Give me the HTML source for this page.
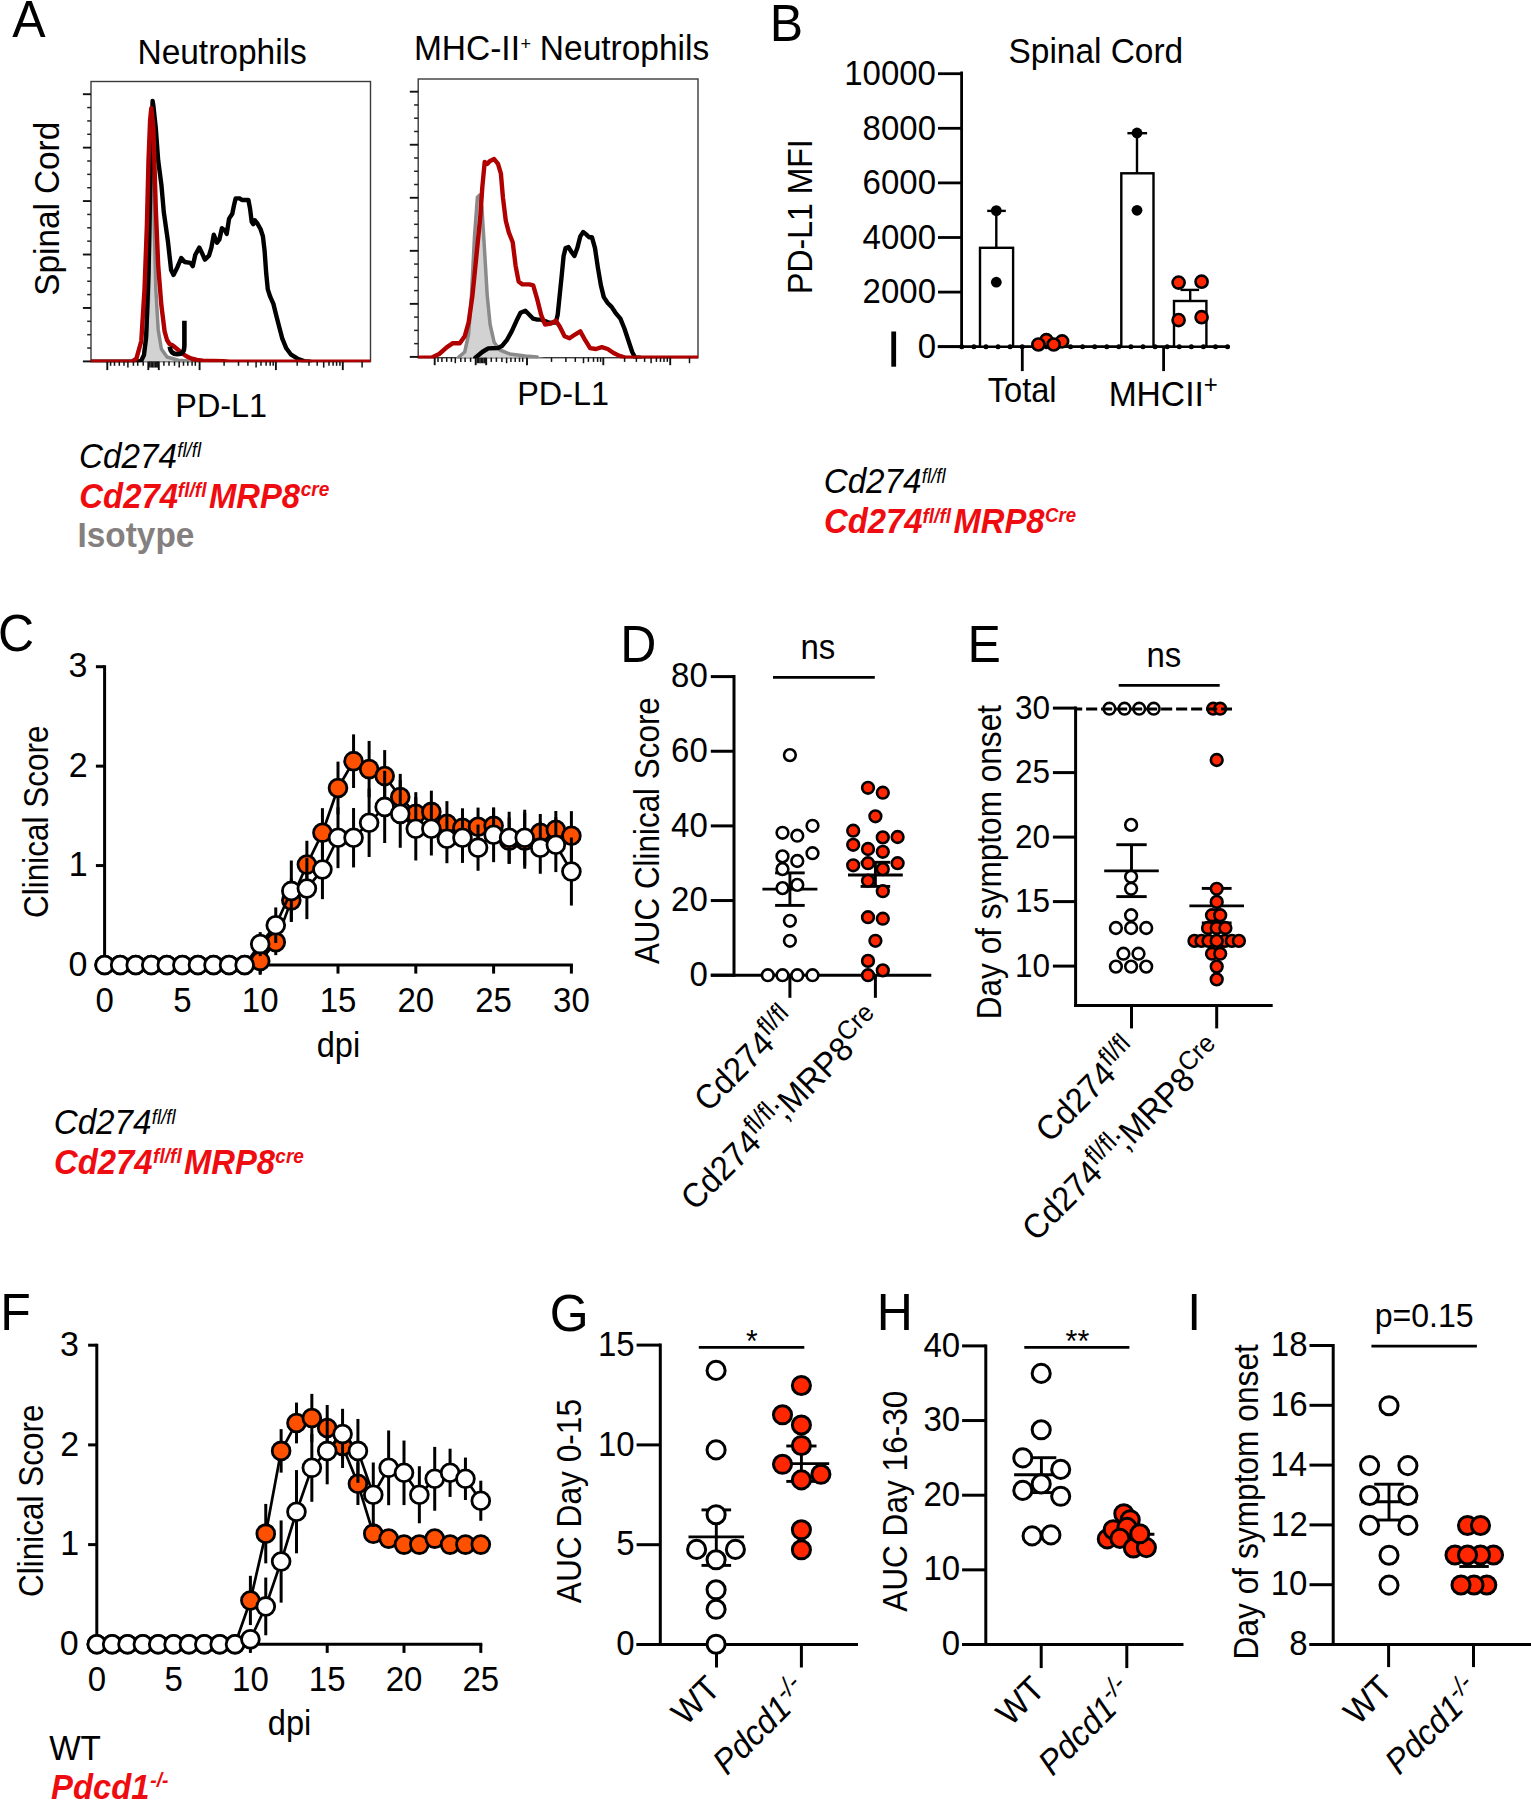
<!DOCTYPE html>
<html><head><meta charset="utf-8"><title>Figure</title>
<style>
html,body{margin:0;padding:0;background:#fff;}
svg{display:block;}
text{font-family:'Liberation Sans', Arial, Helvetica, sans-serif;}
</style></head><body>
<svg xmlns="http://www.w3.org/2000/svg" width="1531" height="1800" viewBox="0 0 1531 1800" font-family="Liberation Sans, Arial, Helvetica, sans-serif">
<rect width="1531" height="1800" fill="#fff"/>
<text transform="translate(12.3 36.5) scale(1 1.05)" font-size="50" fill="#000">A</text>
<text transform="translate(137.45 63.8) scale(1 1.05)" font-size="33.5" fill="#000">Neutrophils</text>
<text transform="translate(413.95 60.1) scale(1 1.05)" font-size="33.5" fill="#000">MHC-II</text>
<text transform="translate(520.62 49.6) scale(1 1.05)" font-size="18" fill="#000">+</text>
<text transform="translate(539.85 60.1) scale(1 1.05)" font-size="33.5" fill="#000">Neutrophils</text>
<text transform="translate(59.3 295.71) rotate(-90) scale(1 1.05)" font-size="33.3" fill="#000">Spinal Cord</text>
<text transform="translate(175.34 417.4) scale(1 1.05)" font-size="32.4" fill="#000">PD-L1</text>
<text transform="translate(517.24 405.3) scale(1 1.05)" font-size="32.4" fill="#000">PD-L1</text>
<clipPath id="ch1"><rect x="91" y="81.5" width="279.5" height="280.8"/></clipPath>
<rect x="91" y="81.5" width="279.5" height="280.1" fill="none" stroke="#3a3a3a" stroke-width="1.4"/>
<g clip-path="url(#ch1)">
<polygon points="141,361.6 144,352 146.5,335 148.5,300 150,230 151.2,150 152,118 153.2,150 154.2,225 155.8,289 158.2,329.7 161.4,349 167,357 178.3,360.3 188,361.1 200,361.6" fill="#d2d2d2" stroke="none"/>
<polyline points="144,352 146.5,335 148.5,300 150,230 151.2,150 152,118 153.2,150 154.2,225 155.8,289 158.2,329.7 161.4,349 167,357 178.3,360.3 188,361.1" fill="none" stroke="#8a8a8a" stroke-width="3.5" stroke-linejoin="round" stroke-linecap="round"/>
<polyline points="91,361.6 138,361.6 141.3,360.5 144,355 146.1,337.8 148.5,273.3 150.1,192.8 151.8,128.3 152.6,100.9 153.3,105 155.8,128.3 158.2,160.6 161.4,184.7 163.8,212.1 167.9,241.1 171.1,270.1 173.5,274.9 177.5,266.9 181.2,258 184.8,262 190.4,262.9 192.8,266.1 195.3,254.8 199.3,247.6 201.7,252.4 204.9,259.6 209,255.6 211.4,247.6 213.8,234.7 217,242.7 219.4,239.5 221.9,228.2 225.1,230.6 226.7,233.9 229.1,218.6 232.3,213.7 233.9,205.7 235.6,198.4 239.6,198.4 242,200 248.4,200 250.1,208.9 251.7,221.8 253.3,224.2 254.9,220.2 257.3,223.4 260.5,229 262.9,236.3 264.6,250.8 266.2,273.3 267.8,289.4 270.2,296.7 273.4,303.9 275.8,313.6 279.1,326.5 282.3,338.6 286.3,348.3 291.1,354.7 297.6,358.7 304,361.1 310,361.6" fill="none" stroke="#000" stroke-width="4.4" stroke-linejoin="round" stroke-linecap="round"/>
<polyline points="91,361.6 132,361.6 136.4,358.7 141.3,341 144.5,289.4 146.9,225 148.5,160.6 150.1,120.3 151.3,108.2 153.4,128.3 155.8,208.9 158.2,265.3 161.4,305.6 164.6,331.3 167,340 169.5,344 172.5,345.3 176.5,348.5 181,352.5 186,356 191,358.5 197,360 203,360.6 223.5,361.1 230,361.6 370.5,361.6" fill="none" stroke="#b00000" stroke-width="4.4" stroke-linejoin="round" stroke-linecap="round"/>
</g>
<path d="M184.4 320.8 L184.4 346 C184.4 352.3 181.2 354.3 177.2 354.3 C173.2 354.3 170.4 352.2 169.7 346.6" fill="none" stroke="#000" stroke-width="4.6"/>
<line x1="82.9" y1="94.2" x2="91" y2="94.2" stroke="#111" stroke-width="1.9"/>
<line x1="87.2" y1="107.56" x2="91" y2="107.56" stroke="#222" stroke-width="1.5"/>
<line x1="87.2" y1="120.92" x2="91" y2="120.92" stroke="#222" stroke-width="1.5"/>
<line x1="87.2" y1="134.28" x2="91" y2="134.28" stroke="#222" stroke-width="1.5"/>
<line x1="82.9" y1="147.64" x2="91" y2="147.64" stroke="#111" stroke-width="1.9"/>
<line x1="87.2" y1="161" x2="91" y2="161" stroke="#222" stroke-width="1.5"/>
<line x1="87.2" y1="174.36" x2="91" y2="174.36" stroke="#222" stroke-width="1.5"/>
<line x1="87.2" y1="187.72" x2="91" y2="187.72" stroke="#222" stroke-width="1.5"/>
<line x1="82.9" y1="201.08" x2="91" y2="201.08" stroke="#111" stroke-width="1.9"/>
<line x1="87.2" y1="214.44" x2="91" y2="214.44" stroke="#222" stroke-width="1.5"/>
<line x1="87.2" y1="227.8" x2="91" y2="227.8" stroke="#222" stroke-width="1.5"/>
<line x1="87.2" y1="241.16" x2="91" y2="241.16" stroke="#222" stroke-width="1.5"/>
<line x1="82.9" y1="254.52" x2="91" y2="254.52" stroke="#111" stroke-width="1.9"/>
<line x1="87.2" y1="267.88" x2="91" y2="267.88" stroke="#222" stroke-width="1.5"/>
<line x1="87.2" y1="281.24" x2="91" y2="281.24" stroke="#222" stroke-width="1.5"/>
<line x1="87.2" y1="294.6" x2="91" y2="294.6" stroke="#222" stroke-width="1.5"/>
<line x1="82.9" y1="307.96" x2="91" y2="307.96" stroke="#111" stroke-width="1.9"/>
<line x1="87.2" y1="321.32" x2="91" y2="321.32" stroke="#222" stroke-width="1.5"/>
<line x1="87.2" y1="334.68" x2="91" y2="334.68" stroke="#222" stroke-width="1.5"/>
<line x1="87.2" y1="348.04" x2="91" y2="348.04" stroke="#222" stroke-width="1.5"/>
<line x1="82.9" y1="361.4" x2="91" y2="361.4" stroke="#111" stroke-width="1.9"/>
<line x1="107.3" y1="361.6" x2="107.3" y2="370.1" stroke="#111" stroke-width="1.9"/>
<line x1="148.3" y1="361.6" x2="148.3" y2="370.1" stroke="#111" stroke-width="1.9"/>
<line x1="158.8" y1="361.6" x2="158.8" y2="370.1" stroke="#111" stroke-width="1.9"/>
<line x1="199.6" y1="361.6" x2="199.6" y2="370.1" stroke="#111" stroke-width="1.9"/>
<line x1="275.9" y1="361.6" x2="275.9" y2="370.1" stroke="#111" stroke-width="1.9"/>
<line x1="342.8" y1="361.6" x2="342.8" y2="370.1" stroke="#111" stroke-width="1.9"/>
<line x1="127.9" y1="361.6" x2="127.9" y2="367.6" stroke="#111" stroke-width="1.5"/>
<line x1="179.2" y1="361.6" x2="179.2" y2="367.6" stroke="#111" stroke-width="1.5"/>
<line x1="256.1" y1="361.6" x2="256.1" y2="367.6" stroke="#111" stroke-width="1.5"/>
<line x1="323.7" y1="361.6" x2="323.7" y2="367.6" stroke="#111" stroke-width="1.5"/>
<line x1="362.1" y1="361.6" x2="362.1" y2="367.6" stroke="#111" stroke-width="1.5"/>
<line x1="149.8" y1="361.6" x2="149.8" y2="367.6" stroke="#111" stroke-width="1.5"/>
<line x1="151.2" y1="361.6" x2="151.2" y2="367.6" stroke="#111" stroke-width="1.5"/>
<line x1="152.6" y1="361.6" x2="152.6" y2="367.6" stroke="#111" stroke-width="1.5"/>
<line x1="154" y1="361.6" x2="154" y2="367.6" stroke="#111" stroke-width="1.5"/>
<line x1="155.4" y1="361.6" x2="155.4" y2="367.6" stroke="#111" stroke-width="1.5"/>
<line x1="156.8" y1="361.6" x2="156.8" y2="367.6" stroke="#111" stroke-width="1.5"/>
<line x1="157.8" y1="361.6" x2="157.8" y2="367.6" stroke="#111" stroke-width="1.5"/>
<line x1="110.6" y1="361.6" x2="110.6" y2="365.8" stroke="#111" stroke-width="1.5"/>
<line x1="114.5" y1="361.6" x2="114.5" y2="365.8" stroke="#111" stroke-width="1.5"/>
<line x1="119.3" y1="361.6" x2="119.3" y2="365.8" stroke="#111" stroke-width="1.5"/>
<line x1="124" y1="361.6" x2="124" y2="365.8" stroke="#111" stroke-width="1.5"/>
<line x1="133.4" y1="361.6" x2="133.4" y2="365.8" stroke="#111" stroke-width="1.5"/>
<line x1="137.7" y1="361.6" x2="137.7" y2="365.8" stroke="#111" stroke-width="1.5"/>
<line x1="143.2" y1="361.6" x2="143.2" y2="365.8" stroke="#111" stroke-width="1.5"/>
<line x1="163.9" y1="361.6" x2="163.9" y2="365.8" stroke="#111" stroke-width="1.5"/>
<line x1="169" y1="361.6" x2="169" y2="365.8" stroke="#111" stroke-width="1.5"/>
<line x1="174.5" y1="361.6" x2="174.5" y2="365.8" stroke="#111" stroke-width="1.5"/>
<line x1="183.5" y1="361.6" x2="183.5" y2="365.8" stroke="#111" stroke-width="1.5"/>
<line x1="187.8" y1="361.6" x2="187.8" y2="365.8" stroke="#111" stroke-width="1.5"/>
<line x1="192.1" y1="361.6" x2="192.1" y2="365.8" stroke="#111" stroke-width="1.5"/>
<line x1="195.3" y1="361.6" x2="195.3" y2="365.8" stroke="#111" stroke-width="1.5"/>
<line x1="224.1" y1="361.6" x2="224.1" y2="365.8" stroke="#111" stroke-width="1.5"/>
<line x1="238.5" y1="361.6" x2="238.5" y2="365.8" stroke="#111" stroke-width="1.5"/>
<line x1="247.9" y1="361.6" x2="247.9" y2="365.8" stroke="#111" stroke-width="1.5"/>
<line x1="261" y1="361.6" x2="261" y2="365.8" stroke="#111" stroke-width="1.5"/>
<line x1="266.1" y1="361.6" x2="266.1" y2="365.8" stroke="#111" stroke-width="1.5"/>
<line x1="270.2" y1="361.6" x2="270.2" y2="365.8" stroke="#111" stroke-width="1.5"/>
<line x1="273.2" y1="361.6" x2="273.2" y2="365.8" stroke="#111" stroke-width="1.5"/>
<line x1="297.2" y1="361.6" x2="297.2" y2="365.8" stroke="#111" stroke-width="1.5"/>
<line x1="309" y1="361.6" x2="309" y2="365.8" stroke="#111" stroke-width="1.5"/>
<line x1="317.2" y1="361.6" x2="317.2" y2="365.8" stroke="#111" stroke-width="1.5"/>
<line x1="329" y1="361.6" x2="329" y2="365.8" stroke="#111" stroke-width="1.5"/>
<line x1="333.1" y1="361.6" x2="333.1" y2="365.8" stroke="#111" stroke-width="1.5"/>
<line x1="336.6" y1="361.6" x2="336.6" y2="365.8" stroke="#111" stroke-width="1.5"/>
<line x1="339.9" y1="361.6" x2="339.9" y2="365.8" stroke="#111" stroke-width="1.5"/>
<clipPath id="ch2"><rect x="418.2" y="79" width="279.8" height="279.4"/></clipPath>
<rect x="418.2" y="79" width="279.8" height="278.7" fill="none" stroke="#3a3a3a" stroke-width="1.4"/>
<g clip-path="url(#ch2)">
<polygon points="455,357.7 458.8,357 464.7,352 468.6,334.3 471.5,295.1 474.5,236.4 477.4,197.2 479.4,195.2 481.9,207 484.3,246.2 487.2,295.1 490.1,324.5 494.1,342.2 499.9,350 509.7,353.9 525.4,355.9 537.2,356.9 545,357.7" fill="#d2d2d2" stroke="none"/>
<polyline points="458.8,357 464.7,352 468.6,334.3 471.5,295.1 474.5,236.4 477.4,197.2 479.4,195.2 481.9,207 484.3,246.2 487.2,295.1 490.1,324.5 494.1,342.2 499.9,350 509.7,353.9 525.4,355.9 537.2,356.9" fill="none" stroke="#8a8a8a" stroke-width="3.5" stroke-linejoin="round" stroke-linecap="round"/>
<polyline points="475.4,357.7 482.3,352 488.2,348.4 498,348 501.9,346.1 506.8,340.2 511.7,331.4 516.6,320.6 520.5,312.8 525.4,310.8 529.3,314.7 533.2,318.7 537.2,319.6 541.1,319.6 548.9,322.6 555.8,322.6 557.7,314.7 559.7,295.1 561.7,275.6 563.6,256 565.6,248.1 568.5,247.1 571.5,252 574.4,256 577.3,248.1 580.3,236.4 583.2,232 586.2,234.4 589.1,237.3 592,237.3 595,248.1 597.9,267.7 600.9,285.4 603.8,297.1 607.7,303 611.6,306.9 615.5,312.8 620.4,318.7 624.4,328.5 628.3,340.2 632.2,352 635.2,357.7 640,357.7" fill="none" stroke="#000" stroke-width="4.4" stroke-linejoin="round" stroke-linecap="round"/>
<polyline points="418.2,357.7 431.4,357.7 439.2,354 447,347.1 452.9,343.2 459.8,343.2 464.7,336.3 468.6,322.6 472.5,295.1 476.4,256 480.3,216.8 482.3,187.4 484.7,161.9 487.2,163.9 490.1,160.9 494.1,159 498,163.9 500.9,173.7 502.9,197.2 505.8,220.7 508.8,232.4 512.7,242.2 515.6,265.8 518.6,281.4 522.5,284.4 529.3,284.4 533.2,285.4 537.2,299.1 541.1,314.7 545,324.5 550.9,323.6 555.8,320.6 559.7,326.5 564.6,336.3 569.5,338.3 575.4,334.3 580.3,331.4 585.2,340.2 590.1,348.1 596,349 601.8,347.1 607.7,349 613.6,353 619.5,355.9 625.3,357.7 698,357.7" fill="none" stroke="#b00000" stroke-width="4.4" stroke-linejoin="round" stroke-linecap="round"/>
</g>
<line x1="409.8" y1="91.7" x2="418.2" y2="91.7" stroke="#111" stroke-width="1.9"/>
<line x1="414.1" y1="104.96" x2="418.2" y2="104.96" stroke="#222" stroke-width="1.5"/>
<line x1="414.1" y1="118.22" x2="418.2" y2="118.22" stroke="#222" stroke-width="1.5"/>
<line x1="414.1" y1="131.48" x2="418.2" y2="131.48" stroke="#222" stroke-width="1.5"/>
<line x1="409.8" y1="144.74" x2="418.2" y2="144.74" stroke="#111" stroke-width="1.9"/>
<line x1="414.1" y1="158" x2="418.2" y2="158" stroke="#222" stroke-width="1.5"/>
<line x1="414.1" y1="171.26" x2="418.2" y2="171.26" stroke="#222" stroke-width="1.5"/>
<line x1="414.1" y1="184.52" x2="418.2" y2="184.52" stroke="#222" stroke-width="1.5"/>
<line x1="409.8" y1="197.78" x2="418.2" y2="197.78" stroke="#111" stroke-width="1.9"/>
<line x1="414.1" y1="211.04" x2="418.2" y2="211.04" stroke="#222" stroke-width="1.5"/>
<line x1="414.1" y1="224.3" x2="418.2" y2="224.3" stroke="#222" stroke-width="1.5"/>
<line x1="414.1" y1="237.56" x2="418.2" y2="237.56" stroke="#222" stroke-width="1.5"/>
<line x1="409.8" y1="250.82" x2="418.2" y2="250.82" stroke="#111" stroke-width="1.9"/>
<line x1="414.1" y1="264.08" x2="418.2" y2="264.08" stroke="#222" stroke-width="1.5"/>
<line x1="414.1" y1="277.34" x2="418.2" y2="277.34" stroke="#222" stroke-width="1.5"/>
<line x1="414.1" y1="290.6" x2="418.2" y2="290.6" stroke="#222" stroke-width="1.5"/>
<line x1="409.8" y1="303.86" x2="418.2" y2="303.86" stroke="#111" stroke-width="1.9"/>
<line x1="414.1" y1="317.12" x2="418.2" y2="317.12" stroke="#222" stroke-width="1.5"/>
<line x1="414.1" y1="330.38" x2="418.2" y2="330.38" stroke="#222" stroke-width="1.5"/>
<line x1="414.1" y1="343.64" x2="418.2" y2="343.64" stroke="#222" stroke-width="1.5"/>
<line x1="409.8" y1="356.9" x2="418.2" y2="356.9" stroke="#111" stroke-width="1.9"/>
<line x1="434.7" y1="357.7" x2="434.7" y2="365.2" stroke="#111" stroke-width="1.9"/>
<line x1="475.7" y1="357.7" x2="475.7" y2="365.2" stroke="#111" stroke-width="1.9"/>
<line x1="486.2" y1="357.7" x2="486.2" y2="365.2" stroke="#111" stroke-width="1.9"/>
<line x1="527" y1="357.7" x2="527" y2="365.2" stroke="#111" stroke-width="1.9"/>
<line x1="603.3" y1="357.7" x2="603.3" y2="365.2" stroke="#111" stroke-width="1.9"/>
<line x1="670.2" y1="357.7" x2="670.2" y2="365.2" stroke="#111" stroke-width="1.9"/>
<line x1="455.3" y1="357.7" x2="455.3" y2="363.2" stroke="#111" stroke-width="1.5"/>
<line x1="506.6" y1="357.7" x2="506.6" y2="363.2" stroke="#111" stroke-width="1.5"/>
<line x1="583.5" y1="357.7" x2="583.5" y2="363.2" stroke="#111" stroke-width="1.5"/>
<line x1="651.1" y1="357.7" x2="651.1" y2="363.2" stroke="#111" stroke-width="1.5"/>
<line x1="689.5" y1="357.7" x2="689.5" y2="363.2" stroke="#111" stroke-width="1.5"/>
<line x1="477.2" y1="357.7" x2="477.2" y2="363.2" stroke="#111" stroke-width="1.5"/>
<line x1="478.6" y1="357.7" x2="478.6" y2="363.2" stroke="#111" stroke-width="1.5"/>
<line x1="480" y1="357.7" x2="480" y2="363.2" stroke="#111" stroke-width="1.5"/>
<line x1="481.4" y1="357.7" x2="481.4" y2="363.2" stroke="#111" stroke-width="1.5"/>
<line x1="482.8" y1="357.7" x2="482.8" y2="363.2" stroke="#111" stroke-width="1.5"/>
<line x1="484.2" y1="357.7" x2="484.2" y2="363.2" stroke="#111" stroke-width="1.5"/>
<line x1="485.2" y1="357.7" x2="485.2" y2="363.2" stroke="#111" stroke-width="1.5"/>
<line x1="438" y1="357.7" x2="438" y2="361.9" stroke="#111" stroke-width="1.5"/>
<line x1="441.9" y1="357.7" x2="441.9" y2="361.9" stroke="#111" stroke-width="1.5"/>
<line x1="446.7" y1="357.7" x2="446.7" y2="361.9" stroke="#111" stroke-width="1.5"/>
<line x1="451.4" y1="357.7" x2="451.4" y2="361.9" stroke="#111" stroke-width="1.5"/>
<line x1="460.8" y1="357.7" x2="460.8" y2="361.9" stroke="#111" stroke-width="1.5"/>
<line x1="465.1" y1="357.7" x2="465.1" y2="361.9" stroke="#111" stroke-width="1.5"/>
<line x1="470.6" y1="357.7" x2="470.6" y2="361.9" stroke="#111" stroke-width="1.5"/>
<line x1="491.3" y1="357.7" x2="491.3" y2="361.9" stroke="#111" stroke-width="1.5"/>
<line x1="496.4" y1="357.7" x2="496.4" y2="361.9" stroke="#111" stroke-width="1.5"/>
<line x1="501.9" y1="357.7" x2="501.9" y2="361.9" stroke="#111" stroke-width="1.5"/>
<line x1="510.9" y1="357.7" x2="510.9" y2="361.9" stroke="#111" stroke-width="1.5"/>
<line x1="515.2" y1="357.7" x2="515.2" y2="361.9" stroke="#111" stroke-width="1.5"/>
<line x1="519.5" y1="357.7" x2="519.5" y2="361.9" stroke="#111" stroke-width="1.5"/>
<line x1="522.7" y1="357.7" x2="522.7" y2="361.9" stroke="#111" stroke-width="1.5"/>
<line x1="551.5" y1="357.7" x2="551.5" y2="361.9" stroke="#111" stroke-width="1.5"/>
<line x1="565.9" y1="357.7" x2="565.9" y2="361.9" stroke="#111" stroke-width="1.5"/>
<line x1="575.3" y1="357.7" x2="575.3" y2="361.9" stroke="#111" stroke-width="1.5"/>
<line x1="588.4" y1="357.7" x2="588.4" y2="361.9" stroke="#111" stroke-width="1.5"/>
<line x1="593.5" y1="357.7" x2="593.5" y2="361.9" stroke="#111" stroke-width="1.5"/>
<line x1="597.6" y1="357.7" x2="597.6" y2="361.9" stroke="#111" stroke-width="1.5"/>
<line x1="600.6" y1="357.7" x2="600.6" y2="361.9" stroke="#111" stroke-width="1.5"/>
<line x1="624.6" y1="357.7" x2="624.6" y2="361.9" stroke="#111" stroke-width="1.5"/>
<line x1="636.4" y1="357.7" x2="636.4" y2="361.9" stroke="#111" stroke-width="1.5"/>
<line x1="644.6" y1="357.7" x2="644.6" y2="361.9" stroke="#111" stroke-width="1.5"/>
<line x1="656.4" y1="357.7" x2="656.4" y2="361.9" stroke="#111" stroke-width="1.5"/>
<line x1="660.5" y1="357.7" x2="660.5" y2="361.9" stroke="#111" stroke-width="1.5"/>
<line x1="664" y1="357.7" x2="664" y2="361.9" stroke="#111" stroke-width="1.5"/>
<line x1="667.3" y1="357.7" x2="667.3" y2="361.9" stroke="#111" stroke-width="1.5"/>
<text transform="translate(79.07 467.9) scale(1 1.05)" font-size="33.2" font-style="italic" fill="#000">Cd274</text>
<text transform="translate(177.27 457.3) scale(1 1.05)" font-size="18.6" font-style="italic" fill="#000">fl/fl</text>
<text transform="translate(79.29 507.6) scale(1 1.05)" font-size="32.9" font-weight="bold" font-style="italic" fill="#ee0c10">Cd274</text>
<text transform="translate(177.81 497.2) scale(1 1.05)" font-size="19.1" font-weight="bold" font-style="italic" fill="#ee0c10">fl/fl</text>
<text transform="translate(208.92 507.6) scale(1 1.05)" font-size="32.8" font-weight="bold" font-style="italic" fill="#ee0c10">MRP8</text>
<text transform="translate(300.72 496.4) scale(1 1.05)" font-size="19" font-weight="bold" font-style="italic" fill="#ee0c10">cre</text>
<text transform="translate(77.47 547.3) scale(1 1.05)" font-size="33.4" font-weight="bold" fill="#858080">Isotype</text>
<text transform="translate(769.8 40.8) scale(1 1.05)" font-size="50" fill="#000">B</text>
<text transform="translate(1008.48 62.5) scale(1 1.05)" font-size="33.45" fill="#000">Spinal Cord</text>
<text transform="translate(812 293.93) rotate(-90) scale(1 1.09)" font-size="32" fill="#000">PD-L1 MFI</text>
<line x1="961.6" y1="71.6" x2="961.6" y2="348.1" stroke="#000" stroke-width="2.8"/>
<line x1="938" y1="73.7" x2="961.6" y2="73.7" stroke="#000" stroke-width="2.8"/>
<text transform="translate(844.22 85) scale(1 1.05)" font-size="33" fill="#000">10000</text>
<line x1="938" y1="128.3" x2="961.6" y2="128.3" stroke="#000" stroke-width="2.8"/>
<text transform="translate(862.58 139.6) scale(1 1.05)" font-size="33" fill="#000">8000</text>
<line x1="938" y1="182.9" x2="961.6" y2="182.9" stroke="#000" stroke-width="2.8"/>
<text transform="translate(862.58 194.2) scale(1 1.05)" font-size="33" fill="#000">6000</text>
<line x1="938" y1="237.5" x2="961.6" y2="237.5" stroke="#000" stroke-width="2.8"/>
<text transform="translate(862.58 248.8) scale(1 1.05)" font-size="33" fill="#000">4000</text>
<line x1="938" y1="292.1" x2="961.6" y2="292.1" stroke="#000" stroke-width="2.8"/>
<text transform="translate(862.58 303.4) scale(1 1.05)" font-size="33" fill="#000">2000</text>
<line x1="938" y1="346.7" x2="961.6" y2="346.7" stroke="#000" stroke-width="2.8"/>
<text transform="translate(917.64 358) scale(1 1.05)" font-size="33" fill="#000">0</text>
<line x1="937.7" y1="346.7" x2="1228" y2="346.7" stroke="#000" stroke-width="2.8"/>
<line x1="1022.3" y1="346.7" x2="1022.3" y2="371.1" stroke="#000" stroke-width="2.8"/>
<line x1="1163.6" y1="346.7" x2="1163.6" y2="371.1" stroke="#000" stroke-width="2.8"/>
<rect x="891.3" y="331.5" width="4.8" height="35.2" fill="#000"/>
<rect x="980" y="247.8" width="33.1" height="98.9" fill="#fff" stroke="#000" stroke-width="2.4"/>
<line x1="996.3" y1="247.8" x2="996.3" y2="210.9" stroke="#000" stroke-width="2.4"/>
<line x1="987.2" y1="210.9" x2="1005.8" y2="210.9" stroke="#000" stroke-width="2.4"/>
<rect x="1121.3" y="173.3" width="32.2" height="173.4" fill="#fff" stroke="#000" stroke-width="2.4"/>
<line x1="1137" y1="173.3" x2="1137" y2="133.2" stroke="#000" stroke-width="2.4"/>
<line x1="1127.4" y1="133.2" x2="1147.1" y2="133.2" stroke="#000" stroke-width="2.4"/>
<rect x="1174" y="301" width="32.4" height="45.7" fill="#fff" stroke="#000" stroke-width="2.4"/>
<line x1="1190.2" y1="301" x2="1190.2" y2="289.9" stroke="#000" stroke-width="2.4"/>
<line x1="1180.5" y1="289.9" x2="1199.1" y2="289.9" stroke="#000" stroke-width="2.4"/>
<rect x="1036" y="342.5" width="28" height="4.2" fill="#fff" stroke="#000" stroke-width="2.4"/>
<circle cx="961.8" cy="346.7" r="2.5" fill="#000"/>
<circle cx="973.88" cy="346.7" r="2.5" fill="#000"/>
<circle cx="985.96" cy="346.7" r="2.5" fill="#000"/>
<circle cx="998.04" cy="346.7" r="2.5" fill="#000"/>
<circle cx="1010.12" cy="346.7" r="2.5" fill="#000"/>
<circle cx="1022.2" cy="346.7" r="2.5" fill="#000"/>
<circle cx="1034.28" cy="346.7" r="2.5" fill="#000"/>
<circle cx="1046.36" cy="346.7" r="2.5" fill="#000"/>
<circle cx="1058.44" cy="346.7" r="2.5" fill="#000"/>
<circle cx="1070.52" cy="346.7" r="2.5" fill="#000"/>
<circle cx="1082.6" cy="346.7" r="2.5" fill="#000"/>
<circle cx="1094.68" cy="346.7" r="2.5" fill="#000"/>
<circle cx="1106.76" cy="346.7" r="2.5" fill="#000"/>
<circle cx="1118.84" cy="346.7" r="2.5" fill="#000"/>
<circle cx="1130.92" cy="346.7" r="2.5" fill="#000"/>
<circle cx="1143" cy="346.7" r="2.5" fill="#000"/>
<circle cx="1155.08" cy="346.7" r="2.5" fill="#000"/>
<circle cx="1167.16" cy="346.7" r="2.5" fill="#000"/>
<circle cx="1179.24" cy="346.7" r="2.5" fill="#000"/>
<circle cx="1191.32" cy="346.7" r="2.5" fill="#000"/>
<circle cx="1203.4" cy="346.7" r="2.5" fill="#000"/>
<circle cx="1215.48" cy="346.7" r="2.5" fill="#000"/>
<circle cx="1227.56" cy="346.7" r="2.5" fill="#000"/>
<circle cx="996.3" cy="210.6" r="5.4" fill="#000"/>
<circle cx="996.3" cy="282.2" r="5.4" fill="#000"/>
<circle cx="1137" cy="133" r="5.4" fill="#000"/>
<circle cx="1137" cy="210.3" r="5.4" fill="#000"/>
<circle cx="1046.4" cy="340.2" r="6.05" fill="#ff2600" stroke="#000" stroke-width="2.6"/>
<circle cx="1062.1" cy="341.4" r="6.05" fill="#ff2600" stroke="#000" stroke-width="2.6"/>
<circle cx="1038.4" cy="344.5" r="6.05" fill="#ff2600" stroke="#000" stroke-width="2.6"/>
<circle cx="1053.7" cy="344.5" r="6.05" fill="#ff2600" stroke="#000" stroke-width="2.6"/>
<circle cx="1178.6" cy="282.6" r="6.05" fill="#ff2600" stroke="#000" stroke-width="2.6"/>
<circle cx="1201.6" cy="281.7" r="6.05" fill="#ff2600" stroke="#000" stroke-width="2.6"/>
<circle cx="1178.6" cy="320.1" r="6.05" fill="#ff2600" stroke="#000" stroke-width="2.6"/>
<circle cx="1201.6" cy="317.2" r="6.05" fill="#ff2600" stroke="#000" stroke-width="2.6"/>
<text transform="translate(987.77 402.2) scale(1 1.05)" font-size="32.6" fill="#000">Total</text>
<text transform="translate(1108.64 405.8) scale(1 1.05)" font-size="33.6" fill="#000">MHCII</text>
<text transform="translate(1203.83 393) scale(1 1.05)" font-size="24" fill="#000">+</text>
<text transform="translate(823.67 493.3) scale(1 1.05)" font-size="33.2" font-style="italic" fill="#000">Cd274</text>
<text transform="translate(921.87 482.7) scale(1 1.05)" font-size="18.6" font-style="italic" fill="#000">fl/fl</text>
<text transform="translate(823.89 533) scale(1 1.05)" font-size="32.9" font-weight="bold" font-style="italic" fill="#ee0c10">Cd274</text>
<text transform="translate(922.41 522.6) scale(1 1.05)" font-size="19.1" font-weight="bold" font-style="italic" fill="#ee0c10">fl/fl</text>
<text transform="translate(953.52 533) scale(1 1.05)" font-size="32.8" font-weight="bold" font-style="italic" fill="#ee0c10">MRP8</text>
<text transform="translate(1044.99 521.8) scale(1 1.05)" font-size="18.6" font-weight="bold" font-style="italic" fill="#ee0c10">Cre</text>
<text transform="translate(-1.94 650.5) scale(1 1.05)" font-size="50" fill="#000">C</text>
<line x1="104.6" y1="665.21" x2="104.6" y2="966.5" stroke="#000" stroke-width="3"/>
<line x1="104.6" y1="965" x2="572.9" y2="965" stroke="#000" stroke-width="3"/>
<line x1="95.9" y1="965" x2="104.6" y2="965" stroke="#000" stroke-width="3"/>
<text transform="translate(68.42 975.7) scale(1 1.05)" font-size="34" fill="#000">0</text>
<line x1="95.9" y1="865.57" x2="104.6" y2="865.57" stroke="#000" stroke-width="3"/>
<text transform="translate(68.75 876.27) scale(1 1.05)" font-size="34" fill="#000">1</text>
<line x1="95.9" y1="766.14" x2="104.6" y2="766.14" stroke="#000" stroke-width="3"/>
<text transform="translate(68.8 776.84) scale(1 1.05)" font-size="34" fill="#000">2</text>
<line x1="95.9" y1="666.71" x2="104.6" y2="666.71" stroke="#000" stroke-width="3"/>
<text transform="translate(68.58 677.41) scale(1 1.05)" font-size="34" fill="#000">3</text>
<line x1="104.6" y1="965" x2="104.6" y2="973.6" stroke="#000" stroke-width="3"/>
<text transform="translate(104.6 1012.3) scale(1 1.05)" font-size="33" text-anchor="middle" fill="#000">0</text>
<line x1="182.4" y1="965" x2="182.4" y2="973.6" stroke="#000" stroke-width="3"/>
<text transform="translate(182.4 1012.3) scale(1 1.05)" font-size="33" text-anchor="middle" fill="#000">5</text>
<line x1="260.2" y1="965" x2="260.2" y2="973.6" stroke="#000" stroke-width="3"/>
<text transform="translate(260.2 1012.3) scale(1 1.05)" font-size="33" text-anchor="middle" fill="#000">10</text>
<line x1="338" y1="965" x2="338" y2="973.6" stroke="#000" stroke-width="3"/>
<text transform="translate(338 1012.3) scale(1 1.05)" font-size="33" text-anchor="middle" fill="#000">15</text>
<line x1="415.8" y1="965" x2="415.8" y2="973.6" stroke="#000" stroke-width="3"/>
<text transform="translate(415.8 1012.3) scale(1 1.05)" font-size="33" text-anchor="middle" fill="#000">20</text>
<line x1="493.6" y1="965" x2="493.6" y2="973.6" stroke="#000" stroke-width="3"/>
<text transform="translate(493.6 1012.3) scale(1 1.05)" font-size="33" text-anchor="middle" fill="#000">25</text>
<line x1="571.4" y1="965" x2="571.4" y2="973.6" stroke="#000" stroke-width="3"/>
<text transform="translate(571.4 1012.3) scale(1 1.05)" font-size="33" text-anchor="middle" fill="#000">30</text>
<text transform="translate(47.7 918.1) rotate(-90) scale(1 1.09)" font-size="31.5" fill="#000">Clinical Score</text>
<text transform="translate(316.73 1057.3) scale(1 1.05)" font-size="32.6" fill="#000">dpi</text>
<line x1="260.2" y1="947.22" x2="260.2" y2="974.82" stroke="#000" stroke-width="3"/>
<line x1="275.76" y1="929.13" x2="275.76" y2="955.13" stroke="#000" stroke-width="3"/>
<line x1="291.32" y1="878.77" x2="291.32" y2="921.97" stroke="#000" stroke-width="3"/>
<line x1="306.88" y1="840.78" x2="306.88" y2="888.38" stroke="#000" stroke-width="3"/>
<line x1="322.44" y1="808.16" x2="322.44" y2="857.36" stroke="#000" stroke-width="3"/>
<line x1="338" y1="761.61" x2="338" y2="814.41" stroke="#000" stroke-width="3"/>
<line x1="353.56" y1="734.37" x2="353.56" y2="787.97" stroke="#000" stroke-width="3"/>
<line x1="369.12" y1="740.92" x2="369.12" y2="797.32" stroke="#000" stroke-width="3"/>
<line x1="384.68" y1="750.08" x2="384.68" y2="802.08" stroke="#000" stroke-width="3"/>
<line x1="400.24" y1="773.86" x2="400.24" y2="820.06" stroke="#000" stroke-width="3"/>
<line x1="415.8" y1="792.17" x2="415.8" y2="835.57" stroke="#000" stroke-width="3"/>
<line x1="431.36" y1="790.68" x2="431.36" y2="833.08" stroke="#000" stroke-width="3"/>
<line x1="446.92" y1="801.11" x2="446.92" y2="846.51" stroke="#000" stroke-width="3"/>
<line x1="462.48" y1="808.29" x2="462.48" y2="847.29" stroke="#000" stroke-width="3"/>
<line x1="478.04" y1="807.59" x2="478.04" y2="845.99" stroke="#000" stroke-width="3"/>
<line x1="493.6" y1="808" x2="493.6" y2="843.6" stroke="#000" stroke-width="3"/>
<line x1="509.16" y1="817.61" x2="509.16" y2="863.81" stroke="#000" stroke-width="3"/>
<line x1="524.72" y1="812.71" x2="524.72" y2="868.71" stroke="#000" stroke-width="3"/>
<line x1="540.28" y1="813.96" x2="540.28" y2="851.56" stroke="#000" stroke-width="3"/>
<line x1="555.84" y1="810.98" x2="555.84" y2="848.58" stroke="#000" stroke-width="3"/>
<line x1="571.4" y1="811.14" x2="571.4" y2="860.34" stroke="#000" stroke-width="3"/>
<polyline points="104.6,965 120.16,965 135.72,965 151.28,965 166.84,965 182.4,965 197.96,965 213.52,965 229.08,965 244.64,965 260.2,961.02 275.76,942.13 291.32,900.37 306.88,864.58 322.44,832.76 338,788.01 353.56,761.17 369.12,769.12 384.68,776.08 400.24,796.96 415.8,813.87 431.36,811.88 446.92,823.81 462.48,827.79 478.04,826.79 493.6,825.8 509.16,840.71 524.72,840.71 540.28,832.76 555.84,829.78 571.4,835.74" fill="none" stroke="#000" stroke-width="2.7" stroke-linejoin="round" stroke-linecap="round"/>
<circle cx="104.6" cy="965" r="8.9" fill="#ff5000" stroke="#000" stroke-width="2.8"/>
<circle cx="120.16" cy="965" r="8.9" fill="#ff5000" stroke="#000" stroke-width="2.8"/>
<circle cx="135.72" cy="965" r="8.9" fill="#ff5000" stroke="#000" stroke-width="2.8"/>
<circle cx="151.28" cy="965" r="8.9" fill="#ff5000" stroke="#000" stroke-width="2.8"/>
<circle cx="166.84" cy="965" r="8.9" fill="#ff5000" stroke="#000" stroke-width="2.8"/>
<circle cx="182.4" cy="965" r="8.9" fill="#ff5000" stroke="#000" stroke-width="2.8"/>
<circle cx="197.96" cy="965" r="8.9" fill="#ff5000" stroke="#000" stroke-width="2.8"/>
<circle cx="213.52" cy="965" r="8.9" fill="#ff5000" stroke="#000" stroke-width="2.8"/>
<circle cx="229.08" cy="965" r="8.9" fill="#ff5000" stroke="#000" stroke-width="2.8"/>
<circle cx="244.64" cy="965" r="8.9" fill="#ff5000" stroke="#000" stroke-width="2.8"/>
<circle cx="260.2" cy="961.02" r="8.9" fill="#ff5000" stroke="#000" stroke-width="2.8"/>
<circle cx="275.76" cy="942.13" r="8.9" fill="#ff5000" stroke="#000" stroke-width="2.8"/>
<circle cx="291.32" cy="900.37" r="8.9" fill="#ff5000" stroke="#000" stroke-width="2.8"/>
<circle cx="306.88" cy="864.58" r="8.9" fill="#ff5000" stroke="#000" stroke-width="2.8"/>
<circle cx="322.44" cy="832.76" r="8.9" fill="#ff5000" stroke="#000" stroke-width="2.8"/>
<circle cx="338" cy="788.01" r="8.9" fill="#ff5000" stroke="#000" stroke-width="2.8"/>
<circle cx="353.56" cy="761.17" r="8.9" fill="#ff5000" stroke="#000" stroke-width="2.8"/>
<circle cx="369.12" cy="769.12" r="8.9" fill="#ff5000" stroke="#000" stroke-width="2.8"/>
<circle cx="384.68" cy="776.08" r="8.9" fill="#ff5000" stroke="#000" stroke-width="2.8"/>
<circle cx="400.24" cy="796.96" r="8.9" fill="#ff5000" stroke="#000" stroke-width="2.8"/>
<circle cx="415.8" cy="813.87" r="8.9" fill="#ff5000" stroke="#000" stroke-width="2.8"/>
<circle cx="431.36" cy="811.88" r="8.9" fill="#ff5000" stroke="#000" stroke-width="2.8"/>
<circle cx="446.92" cy="823.81" r="8.9" fill="#ff5000" stroke="#000" stroke-width="2.8"/>
<circle cx="462.48" cy="827.79" r="8.9" fill="#ff5000" stroke="#000" stroke-width="2.8"/>
<circle cx="478.04" cy="826.79" r="8.9" fill="#ff5000" stroke="#000" stroke-width="2.8"/>
<circle cx="493.6" cy="825.8" r="8.9" fill="#ff5000" stroke="#000" stroke-width="2.8"/>
<circle cx="509.16" cy="840.71" r="8.9" fill="#ff5000" stroke="#000" stroke-width="2.8"/>
<circle cx="524.72" cy="840.71" r="8.9" fill="#ff5000" stroke="#000" stroke-width="2.8"/>
<circle cx="540.28" cy="832.76" r="8.9" fill="#ff5000" stroke="#000" stroke-width="2.8"/>
<circle cx="555.84" cy="829.78" r="8.9" fill="#ff5000" stroke="#000" stroke-width="2.8"/>
<circle cx="571.4" cy="835.74" r="8.9" fill="#ff5000" stroke="#000" stroke-width="2.8"/>
<polyline points="104.6,965 120.16,965 135.72,965 151.28,965 166.84,965 182.4,965 197.96,965 213.52,965 229.08,965 244.64,965 260.2,944.12 275.76,925.23 291.32,890.92 306.88,888.44 322.44,869.55 338,837.73 353.56,837.73 369.12,822.82 384.68,806.91 400.24,813.87 415.8,828.78 431.36,828.78 446.92,838.72 462.48,837.73 478.04,847.67 493.6,834.75 509.16,837.73 524.72,837.73 540.28,847.67 555.84,844.69 571.4,871.54" fill="none" stroke="#000" stroke-width="2.7" stroke-linejoin="round" stroke-linecap="round"/>
<line x1="260.2" y1="932.12" x2="260.2" y2="956.12" stroke="#000" stroke-width="3"/>
<line x1="275.76" y1="907.43" x2="275.76" y2="943.03" stroke="#000" stroke-width="3"/>
<line x1="291.32" y1="860.52" x2="291.32" y2="921.32" stroke="#000" stroke-width="3"/>
<line x1="306.88" y1="857.74" x2="306.88" y2="919.14" stroke="#000" stroke-width="3"/>
<line x1="322.44" y1="839.95" x2="322.44" y2="899.15" stroke="#000" stroke-width="3"/>
<line x1="338" y1="807.33" x2="338" y2="868.13" stroke="#000" stroke-width="3"/>
<line x1="353.56" y1="808.03" x2="353.56" y2="867.43" stroke="#000" stroke-width="3"/>
<line x1="369.12" y1="788.62" x2="369.12" y2="857.02" stroke="#000" stroke-width="3"/>
<line x1="384.68" y1="770.81" x2="384.68" y2="843.01" stroke="#000" stroke-width="3"/>
<line x1="400.24" y1="779.97" x2="400.24" y2="847.77" stroke="#000" stroke-width="3"/>
<line x1="415.8" y1="797.08" x2="415.8" y2="860.48" stroke="#000" stroke-width="3"/>
<line x1="431.36" y1="802.08" x2="431.36" y2="855.48" stroke="#000" stroke-width="3"/>
<line x1="446.92" y1="814.22" x2="446.92" y2="863.22" stroke="#000" stroke-width="3"/>
<line x1="462.48" y1="812.53" x2="462.48" y2="862.93" stroke="#000" stroke-width="3"/>
<line x1="478.04" y1="824.57" x2="478.04" y2="870.77" stroke="#000" stroke-width="3"/>
<line x1="493.6" y1="807.35" x2="493.6" y2="862.15" stroke="#000" stroke-width="3"/>
<line x1="509.16" y1="811.73" x2="509.16" y2="863.73" stroke="#000" stroke-width="3"/>
<line x1="524.72" y1="809.73" x2="524.72" y2="865.73" stroke="#000" stroke-width="3"/>
<line x1="540.28" y1="821.57" x2="540.28" y2="873.77" stroke="#000" stroke-width="3"/>
<line x1="555.84" y1="817.29" x2="555.84" y2="872.09" stroke="#000" stroke-width="3"/>
<line x1="571.4" y1="837.54" x2="571.4" y2="905.54" stroke="#000" stroke-width="3"/>
<circle cx="104.6" cy="965" r="8.9" fill="#fff" stroke="#000" stroke-width="2.8"/>
<circle cx="120.16" cy="965" r="8.9" fill="#fff" stroke="#000" stroke-width="2.8"/>
<circle cx="135.72" cy="965" r="8.9" fill="#fff" stroke="#000" stroke-width="2.8"/>
<circle cx="151.28" cy="965" r="8.9" fill="#fff" stroke="#000" stroke-width="2.8"/>
<circle cx="166.84" cy="965" r="8.9" fill="#fff" stroke="#000" stroke-width="2.8"/>
<circle cx="182.4" cy="965" r="8.9" fill="#fff" stroke="#000" stroke-width="2.8"/>
<circle cx="197.96" cy="965" r="8.9" fill="#fff" stroke="#000" stroke-width="2.8"/>
<circle cx="213.52" cy="965" r="8.9" fill="#fff" stroke="#000" stroke-width="2.8"/>
<circle cx="229.08" cy="965" r="8.9" fill="#fff" stroke="#000" stroke-width="2.8"/>
<circle cx="244.64" cy="965" r="8.9" fill="#fff" stroke="#000" stroke-width="2.8"/>
<circle cx="260.2" cy="944.12" r="8.9" fill="#fff" stroke="#000" stroke-width="2.8"/>
<circle cx="275.76" cy="925.23" r="8.9" fill="#fff" stroke="#000" stroke-width="2.8"/>
<circle cx="291.32" cy="890.92" r="8.9" fill="#fff" stroke="#000" stroke-width="2.8"/>
<circle cx="306.88" cy="888.44" r="8.9" fill="#fff" stroke="#000" stroke-width="2.8"/>
<circle cx="322.44" cy="869.55" r="8.9" fill="#fff" stroke="#000" stroke-width="2.8"/>
<circle cx="338" cy="837.73" r="8.9" fill="#fff" stroke="#000" stroke-width="2.8"/>
<circle cx="353.56" cy="837.73" r="8.9" fill="#fff" stroke="#000" stroke-width="2.8"/>
<circle cx="369.12" cy="822.82" r="8.9" fill="#fff" stroke="#000" stroke-width="2.8"/>
<circle cx="384.68" cy="806.91" r="8.9" fill="#fff" stroke="#000" stroke-width="2.8"/>
<circle cx="400.24" cy="813.87" r="8.9" fill="#fff" stroke="#000" stroke-width="2.8"/>
<circle cx="415.8" cy="828.78" r="8.9" fill="#fff" stroke="#000" stroke-width="2.8"/>
<circle cx="431.36" cy="828.78" r="8.9" fill="#fff" stroke="#000" stroke-width="2.8"/>
<circle cx="446.92" cy="838.72" r="8.9" fill="#fff" stroke="#000" stroke-width="2.8"/>
<circle cx="462.48" cy="837.73" r="8.9" fill="#fff" stroke="#000" stroke-width="2.8"/>
<circle cx="478.04" cy="847.67" r="8.9" fill="#fff" stroke="#000" stroke-width="2.8"/>
<circle cx="493.6" cy="834.75" r="8.9" fill="#fff" stroke="#000" stroke-width="2.8"/>
<circle cx="509.16" cy="837.73" r="8.9" fill="#fff" stroke="#000" stroke-width="2.8"/>
<circle cx="524.72" cy="837.73" r="8.9" fill="#fff" stroke="#000" stroke-width="2.8"/>
<circle cx="540.28" cy="847.67" r="8.9" fill="#fff" stroke="#000" stroke-width="2.8"/>
<circle cx="555.84" cy="844.69" r="8.9" fill="#fff" stroke="#000" stroke-width="2.8"/>
<circle cx="571.4" cy="871.54" r="8.9" fill="#fff" stroke="#000" stroke-width="2.8"/>
<text transform="translate(53.67 1134.3) scale(1 1.05)" font-size="33.2" font-style="italic" fill="#000">Cd274</text>
<text transform="translate(151.87 1123.7) scale(1 1.05)" font-size="18.6" font-style="italic" fill="#000">fl/fl</text>
<text transform="translate(53.89 1173.8) scale(1 1.05)" font-size="32.9" font-weight="bold" font-style="italic" fill="#ee0c10">Cd274</text>
<text transform="translate(153.11 1163.4) scale(1 1.05)" font-size="19.1" font-weight="bold" font-style="italic" fill="#ee0c10">fl/fl</text>
<text transform="translate(183.92 1173.8) scale(1 1.05)" font-size="32.8" font-weight="bold" font-style="italic" fill="#ee0c10">MRP8</text>
<text transform="translate(275.32 1162.6) scale(1 1.05)" font-size="19" font-weight="bold" font-style="italic" fill="#ee0c10">cre</text>
<text transform="translate(0.2 1330.1) scale(1 1.05)" font-size="50" fill="#000">F</text>
<line x1="96.8" y1="1343.7" x2="96.8" y2="1645.8" stroke="#000" stroke-width="3"/>
<line x1="96.8" y1="1644.3" x2="482.3" y2="1644.3" stroke="#000" stroke-width="3"/>
<line x1="88.1" y1="1644.3" x2="96.8" y2="1644.3" stroke="#000" stroke-width="3"/>
<text transform="translate(59.82 1655) scale(1 1.05)" font-size="34" fill="#000">0</text>
<line x1="88.1" y1="1544.6" x2="96.8" y2="1544.6" stroke="#000" stroke-width="3"/>
<text transform="translate(60.15 1555.3) scale(1 1.05)" font-size="34" fill="#000">1</text>
<line x1="88.1" y1="1444.9" x2="96.8" y2="1444.9" stroke="#000" stroke-width="3"/>
<text transform="translate(60.2 1455.6) scale(1 1.05)" font-size="34" fill="#000">2</text>
<line x1="88.1" y1="1345.2" x2="96.8" y2="1345.2" stroke="#000" stroke-width="3"/>
<text transform="translate(59.98 1355.9) scale(1 1.05)" font-size="34" fill="#000">3</text>
<line x1="96.8" y1="1644.3" x2="96.8" y2="1652.9" stroke="#000" stroke-width="3"/>
<text transform="translate(96.8 1691) scale(1 1.05)" font-size="33" text-anchor="middle" fill="#000">0</text>
<line x1="173.6" y1="1644.3" x2="173.6" y2="1652.9" stroke="#000" stroke-width="3"/>
<text transform="translate(173.6 1691) scale(1 1.05)" font-size="33" text-anchor="middle" fill="#000">5</text>
<line x1="250.4" y1="1644.3" x2="250.4" y2="1652.9" stroke="#000" stroke-width="3"/>
<text transform="translate(250.4 1691) scale(1 1.05)" font-size="33" text-anchor="middle" fill="#000">10</text>
<line x1="327.2" y1="1644.3" x2="327.2" y2="1652.9" stroke="#000" stroke-width="3"/>
<text transform="translate(327.2 1691) scale(1 1.05)" font-size="33" text-anchor="middle" fill="#000">15</text>
<line x1="404" y1="1644.3" x2="404" y2="1652.9" stroke="#000" stroke-width="3"/>
<text transform="translate(404 1691) scale(1 1.05)" font-size="33" text-anchor="middle" fill="#000">20</text>
<line x1="480.8" y1="1644.3" x2="480.8" y2="1652.9" stroke="#000" stroke-width="3"/>
<text transform="translate(480.8 1691) scale(1 1.05)" font-size="33" text-anchor="middle" fill="#000">25</text>
<text transform="translate(43.3 1597) rotate(-90) scale(1 1.09)" font-size="31.5" fill="#000">Clinical Score</text>
<text transform="translate(267.83 1735) scale(1 1.05)" font-size="32.6" fill="#000">dpi</text>
<line x1="250.4" y1="1575.81" x2="250.4" y2="1625.06" stroke="#000" stroke-width="3"/>
<line x1="265.76" y1="1503.91" x2="265.76" y2="1563.35" stroke="#000" stroke-width="3"/>
<line x1="281.12" y1="1429.14" x2="281.12" y2="1472.62" stroke="#000" stroke-width="3"/>
<line x1="296.48" y1="1402.59" x2="296.48" y2="1443.35" stroke="#000" stroke-width="3"/>
<line x1="311.84" y1="1393.86" x2="311.84" y2="1442.1" stroke="#000" stroke-width="3"/>
<line x1="327.2" y1="1405.02" x2="327.2" y2="1450.88" stroke="#000" stroke-width="3"/>
<line x1="342.56" y1="1423.82" x2="342.56" y2="1467.98" stroke="#000" stroke-width="3"/>
<line x1="357.92" y1="1462.55" x2="357.92" y2="1505.01" stroke="#000" stroke-width="3"/>
<polyline points="96.8,1644.3 112.16,1644.3 127.52,1644.3 142.88,1644.3 158.24,1644.3 173.6,1644.3 188.96,1644.3 204.32,1644.3 219.68,1644.3 235.04,1644.3 250.4,1600.43 265.76,1533.63 281.12,1450.88 296.48,1422.97 311.84,1417.98 327.2,1427.95 342.56,1445.9 357.92,1483.78 373.28,1533.63 388.64,1538.62 404,1544.6 419.36,1544.6 434.72,1538.62 450.08,1544.6 465.44,1544.6 480.8,1544.6" fill="none" stroke="#000" stroke-width="2.7" stroke-linejoin="round" stroke-linecap="round"/>
<circle cx="96.8" cy="1644.3" r="8.9" fill="#ff5000" stroke="#000" stroke-width="2.8"/>
<circle cx="112.16" cy="1644.3" r="8.9" fill="#ff5000" stroke="#000" stroke-width="2.8"/>
<circle cx="127.52" cy="1644.3" r="8.9" fill="#ff5000" stroke="#000" stroke-width="2.8"/>
<circle cx="142.88" cy="1644.3" r="8.9" fill="#ff5000" stroke="#000" stroke-width="2.8"/>
<circle cx="158.24" cy="1644.3" r="8.9" fill="#ff5000" stroke="#000" stroke-width="2.8"/>
<circle cx="173.6" cy="1644.3" r="8.9" fill="#ff5000" stroke="#000" stroke-width="2.8"/>
<circle cx="188.96" cy="1644.3" r="8.9" fill="#ff5000" stroke="#000" stroke-width="2.8"/>
<circle cx="204.32" cy="1644.3" r="8.9" fill="#ff5000" stroke="#000" stroke-width="2.8"/>
<circle cx="219.68" cy="1644.3" r="8.9" fill="#ff5000" stroke="#000" stroke-width="2.8"/>
<circle cx="235.04" cy="1644.3" r="8.9" fill="#ff5000" stroke="#000" stroke-width="2.8"/>
<circle cx="250.4" cy="1600.43" r="8.9" fill="#ff5000" stroke="#000" stroke-width="2.8"/>
<circle cx="265.76" cy="1533.63" r="8.9" fill="#ff5000" stroke="#000" stroke-width="2.8"/>
<circle cx="281.12" cy="1450.88" r="8.9" fill="#ff5000" stroke="#000" stroke-width="2.8"/>
<circle cx="296.48" cy="1422.97" r="8.9" fill="#ff5000" stroke="#000" stroke-width="2.8"/>
<circle cx="311.84" cy="1417.98" r="8.9" fill="#ff5000" stroke="#000" stroke-width="2.8"/>
<circle cx="327.2" cy="1427.95" r="8.9" fill="#ff5000" stroke="#000" stroke-width="2.8"/>
<circle cx="342.56" cy="1445.9" r="8.9" fill="#ff5000" stroke="#000" stroke-width="2.8"/>
<circle cx="357.92" cy="1483.78" r="8.9" fill="#ff5000" stroke="#000" stroke-width="2.8"/>
<circle cx="373.28" cy="1533.63" r="8.9" fill="#ff5000" stroke="#000" stroke-width="2.8"/>
<circle cx="388.64" cy="1538.62" r="8.9" fill="#ff5000" stroke="#000" stroke-width="2.8"/>
<circle cx="404" cy="1544.6" r="8.9" fill="#ff5000" stroke="#000" stroke-width="2.8"/>
<circle cx="419.36" cy="1544.6" r="8.9" fill="#ff5000" stroke="#000" stroke-width="2.8"/>
<circle cx="434.72" cy="1538.62" r="8.9" fill="#ff5000" stroke="#000" stroke-width="2.8"/>
<circle cx="450.08" cy="1544.6" r="8.9" fill="#ff5000" stroke="#000" stroke-width="2.8"/>
<circle cx="465.44" cy="1544.6" r="8.9" fill="#ff5000" stroke="#000" stroke-width="2.8"/>
<circle cx="480.8" cy="1544.6" r="8.9" fill="#ff5000" stroke="#000" stroke-width="2.8"/>
<polyline points="96.8,1644.3 112.16,1644.3 127.52,1644.3 142.88,1644.3 158.24,1644.3 173.6,1644.3 188.96,1644.3 204.32,1644.3 219.68,1644.3 235.04,1644.3 250.4,1639.32 265.76,1606.41 281.12,1561.55 296.48,1511.7 311.84,1467.83 327.2,1450.88 342.56,1433.93 357.92,1450.88 373.28,1494.75 388.64,1467.83 404,1472.82 419.36,1494.75 434.72,1478.8 450.08,1472.82 465.44,1478.8 480.8,1500.73" fill="none" stroke="#000" stroke-width="2.7" stroke-linejoin="round" stroke-linecap="round"/>
<line x1="265.76" y1="1577.54" x2="265.76" y2="1635.29" stroke="#000" stroke-width="3"/>
<line x1="281.12" y1="1520.45" x2="281.12" y2="1602.65" stroke="#000" stroke-width="3"/>
<line x1="296.48" y1="1470.09" x2="296.48" y2="1553.31" stroke="#000" stroke-width="3"/>
<line x1="311.84" y1="1433.86" x2="311.84" y2="1501.8" stroke="#000" stroke-width="3"/>
<line x1="327.2" y1="1417.42" x2="327.2" y2="1484.34" stroke="#000" stroke-width="3"/>
<line x1="342.56" y1="1408.8" x2="342.56" y2="1459.07" stroke="#000" stroke-width="3"/>
<line x1="357.92" y1="1418.95" x2="357.92" y2="1482.81" stroke="#000" stroke-width="3"/>
<line x1="373.28" y1="1462.48" x2="373.28" y2="1527.02" stroke="#000" stroke-width="3"/>
<line x1="388.64" y1="1430.47" x2="388.64" y2="1505.2" stroke="#000" stroke-width="3"/>
<line x1="404" y1="1440.55" x2="404" y2="1505.09" stroke="#000" stroke-width="3"/>
<line x1="419.36" y1="1466.22" x2="419.36" y2="1523.28" stroke="#000" stroke-width="3"/>
<line x1="434.72" y1="1446.87" x2="434.72" y2="1510.73" stroke="#000" stroke-width="3"/>
<line x1="450.08" y1="1448.7" x2="450.08" y2="1496.93" stroke="#000" stroke-width="3"/>
<line x1="465.44" y1="1457.57" x2="465.44" y2="1500.03" stroke="#000" stroke-width="3"/>
<line x1="480.8" y1="1480.69" x2="480.8" y2="1520.77" stroke="#000" stroke-width="3"/>
<circle cx="96.8" cy="1644.3" r="8.9" fill="#fff" stroke="#000" stroke-width="2.8"/>
<circle cx="112.16" cy="1644.3" r="8.9" fill="#fff" stroke="#000" stroke-width="2.8"/>
<circle cx="127.52" cy="1644.3" r="8.9" fill="#fff" stroke="#000" stroke-width="2.8"/>
<circle cx="142.88" cy="1644.3" r="8.9" fill="#fff" stroke="#000" stroke-width="2.8"/>
<circle cx="158.24" cy="1644.3" r="8.9" fill="#fff" stroke="#000" stroke-width="2.8"/>
<circle cx="173.6" cy="1644.3" r="8.9" fill="#fff" stroke="#000" stroke-width="2.8"/>
<circle cx="188.96" cy="1644.3" r="8.9" fill="#fff" stroke="#000" stroke-width="2.8"/>
<circle cx="204.32" cy="1644.3" r="8.9" fill="#fff" stroke="#000" stroke-width="2.8"/>
<circle cx="219.68" cy="1644.3" r="8.9" fill="#fff" stroke="#000" stroke-width="2.8"/>
<circle cx="235.04" cy="1644.3" r="8.9" fill="#fff" stroke="#000" stroke-width="2.8"/>
<circle cx="250.4" cy="1639.32" r="8.9" fill="#fff" stroke="#000" stroke-width="2.8"/>
<circle cx="265.76" cy="1606.41" r="8.9" fill="#fff" stroke="#000" stroke-width="2.8"/>
<circle cx="281.12" cy="1561.55" r="8.9" fill="#fff" stroke="#000" stroke-width="2.8"/>
<circle cx="296.48" cy="1511.7" r="8.9" fill="#fff" stroke="#000" stroke-width="2.8"/>
<circle cx="311.84" cy="1467.83" r="8.9" fill="#fff" stroke="#000" stroke-width="2.8"/>
<circle cx="327.2" cy="1450.88" r="8.9" fill="#fff" stroke="#000" stroke-width="2.8"/>
<circle cx="342.56" cy="1433.93" r="8.9" fill="#fff" stroke="#000" stroke-width="2.8"/>
<circle cx="357.92" cy="1450.88" r="8.9" fill="#fff" stroke="#000" stroke-width="2.8"/>
<circle cx="373.28" cy="1494.75" r="8.9" fill="#fff" stroke="#000" stroke-width="2.8"/>
<circle cx="388.64" cy="1467.83" r="8.9" fill="#fff" stroke="#000" stroke-width="2.8"/>
<circle cx="404" cy="1472.82" r="8.9" fill="#fff" stroke="#000" stroke-width="2.8"/>
<circle cx="419.36" cy="1494.75" r="8.9" fill="#fff" stroke="#000" stroke-width="2.8"/>
<circle cx="434.72" cy="1478.8" r="8.9" fill="#fff" stroke="#000" stroke-width="2.8"/>
<circle cx="450.08" cy="1472.82" r="8.9" fill="#fff" stroke="#000" stroke-width="2.8"/>
<circle cx="465.44" cy="1478.8" r="8.9" fill="#fff" stroke="#000" stroke-width="2.8"/>
<circle cx="480.8" cy="1500.73" r="8.9" fill="#fff" stroke="#000" stroke-width="2.8"/>
<text transform="translate(49.15 1759.8) scale(1 1.05)" font-size="33.3" fill="#000">WT</text>
<text transform="translate(51.02 1798.6) scale(1 1.05)" font-size="32.8" font-weight="bold" font-style="italic" fill="#ee0c10">Pdcd1</text>
<text transform="translate(150.28 1787.4) scale(1 1.05)" font-size="19.2" font-weight="bold" font-style="italic" fill="#ee0c10">-/-</text>
<text transform="translate(620.2 662) scale(1 1.05)" font-size="50" fill="#000">D</text>
<text transform="translate(800.41 659.1) scale(1 1.05)" font-size="33" fill="#000">ns</text>
<line x1="773" y1="677.4" x2="874.8" y2="677.4" stroke="#000" stroke-width="2.8"/>
<line x1="734" y1="675.1" x2="734" y2="976.7" stroke="#000" stroke-width="3"/>
<line x1="710.8" y1="975.2" x2="931.3" y2="975.2" stroke="#000" stroke-width="3"/>
<line x1="710.8" y1="975.2" x2="734" y2="975.2" stroke="#000" stroke-width="3"/>
<text transform="translate(689.44 985.8) scale(1 1.05)" font-size="33" fill="#000">0</text>
<line x1="710.8" y1="900.55" x2="734" y2="900.55" stroke="#000" stroke-width="3"/>
<text transform="translate(671.08 911.15) scale(1 1.05)" font-size="33" fill="#000">20</text>
<line x1="710.8" y1="825.9" x2="734" y2="825.9" stroke="#000" stroke-width="3"/>
<text transform="translate(671.08 836.5) scale(1 1.05)" font-size="33" fill="#000">40</text>
<line x1="710.8" y1="751.25" x2="734" y2="751.25" stroke="#000" stroke-width="3"/>
<text transform="translate(671.08 761.85) scale(1 1.05)" font-size="33" fill="#000">60</text>
<line x1="710.8" y1="676.6" x2="734" y2="676.6" stroke="#000" stroke-width="3"/>
<text transform="translate(671.08 687.2) scale(1 1.05)" font-size="33" fill="#000">80</text>
<line x1="789.9" y1="975.2" x2="789.9" y2="997.8" stroke="#000" stroke-width="3"/>
<line x1="875.4" y1="975.2" x2="875.4" y2="997.8" stroke="#000" stroke-width="3"/>
<text transform="translate(659 964.06) rotate(-90) scale(1 1.09)" font-size="31.4" fill="#000">AUC Clinical Score</text>
<line x1="762.4" y1="889.1" x2="817.4" y2="889.1" stroke="#000" stroke-width="2.9"/>
<line x1="789.9" y1="872.9" x2="789.9" y2="905.4" stroke="#000" stroke-width="2.9"/>
<line x1="775.1" y1="872.9" x2="804.7" y2="872.9" stroke="#000" stroke-width="2.9"/>
<line x1="775.1" y1="905.4" x2="804.7" y2="905.4" stroke="#000" stroke-width="2.9"/>
<circle cx="789.9" cy="755.1" r="5.85" fill="#fff" stroke="#000" stroke-width="2.6"/>
<circle cx="782.5" cy="832.8" r="5.85" fill="#fff" stroke="#000" stroke-width="2.6"/>
<circle cx="797.3" cy="835.7" r="5.85" fill="#fff" stroke="#000" stroke-width="2.6"/>
<circle cx="812.5" cy="825.8" r="5.85" fill="#fff" stroke="#000" stroke-width="2.6"/>
<circle cx="782.5" cy="856.4" r="5.85" fill="#fff" stroke="#000" stroke-width="2.6"/>
<circle cx="797.3" cy="861" r="5.85" fill="#fff" stroke="#000" stroke-width="2.6"/>
<circle cx="812.5" cy="853.2" r="5.85" fill="#fff" stroke="#000" stroke-width="2.6"/>
<circle cx="782.5" cy="869.1" r="5.85" fill="#fff" stroke="#000" stroke-width="2.6"/>
<circle cx="782.5" cy="888.1" r="5.85" fill="#fff" stroke="#000" stroke-width="2.6"/>
<circle cx="797.3" cy="884.9" r="5.85" fill="#fff" stroke="#000" stroke-width="2.6"/>
<circle cx="789.9" cy="920.8" r="5.85" fill="#fff" stroke="#000" stroke-width="2.6"/>
<circle cx="789.9" cy="940.8" r="5.85" fill="#fff" stroke="#000" stroke-width="2.6"/>
<circle cx="767.8" cy="975.2" r="5.85" fill="#fff" stroke="#000" stroke-width="2.6"/>
<circle cx="782.5" cy="975.2" r="5.85" fill="#fff" stroke="#000" stroke-width="2.6"/>
<circle cx="797.3" cy="975.2" r="5.85" fill="#fff" stroke="#000" stroke-width="2.6"/>
<circle cx="812.5" cy="975.2" r="5.85" fill="#fff" stroke="#000" stroke-width="2.6"/>
<line x1="848" y1="875" x2="902.8" y2="875" stroke="#000" stroke-width="2.9"/>
<line x1="875.4" y1="862.3" x2="875.4" y2="886.4" stroke="#000" stroke-width="2.9"/>
<line x1="860.6" y1="862.3" x2="890.2" y2="862.3" stroke="#000" stroke-width="2.9"/>
<line x1="860.6" y1="886.4" x2="890.2" y2="886.4" stroke="#000" stroke-width="2.9"/>
<circle cx="868" cy="787.8" r="5.85" fill="#ff2600" stroke="#000" stroke-width="2.6"/>
<circle cx="882.8" cy="792.7" r="5.85" fill="#ff2600" stroke="#000" stroke-width="2.6"/>
<circle cx="875.4" cy="816.3" r="5.85" fill="#ff2600" stroke="#000" stroke-width="2.6"/>
<circle cx="853.2" cy="830.7" r="5.85" fill="#ff2600" stroke="#000" stroke-width="2.6"/>
<circle cx="882.8" cy="837.4" r="5.85" fill="#ff2600" stroke="#000" stroke-width="2.6"/>
<circle cx="897.6" cy="837" r="5.85" fill="#ff2600" stroke="#000" stroke-width="2.6"/>
<circle cx="853.2" cy="844.8" r="5.85" fill="#ff2600" stroke="#000" stroke-width="2.6"/>
<circle cx="868" cy="849" r="5.85" fill="#ff2600" stroke="#000" stroke-width="2.6"/>
<circle cx="882.8" cy="851.8" r="5.85" fill="#ff2600" stroke="#000" stroke-width="2.6"/>
<circle cx="853.2" cy="865.3" r="5.85" fill="#ff2600" stroke="#000" stroke-width="2.6"/>
<circle cx="868" cy="863.2" r="5.85" fill="#ff2600" stroke="#000" stroke-width="2.6"/>
<circle cx="882.8" cy="869.1" r="5.85" fill="#ff2600" stroke="#000" stroke-width="2.6"/>
<circle cx="897.6" cy="863.2" r="5.85" fill="#ff2600" stroke="#000" stroke-width="2.6"/>
<circle cx="868" cy="880.7" r="5.85" fill="#ff2600" stroke="#000" stroke-width="2.6"/>
<circle cx="882.8" cy="891.2" r="5.85" fill="#ff2600" stroke="#000" stroke-width="2.6"/>
<circle cx="868" cy="917.2" r="5.85" fill="#ff2600" stroke="#000" stroke-width="2.6"/>
<circle cx="882.8" cy="918.7" r="5.85" fill="#ff2600" stroke="#000" stroke-width="2.6"/>
<circle cx="875.4" cy="940.8" r="5.85" fill="#ff2600" stroke="#000" stroke-width="2.6"/>
<circle cx="868" cy="960.9" r="5.85" fill="#ff2600" stroke="#000" stroke-width="2.6"/>
<circle cx="882.8" cy="970.4" r="5.85" fill="#ff2600" stroke="#000" stroke-width="2.6"/>
<circle cx="868" cy="975.2" r="5.85" fill="#ff2600" stroke="#000" stroke-width="2.6"/>
<text transform="translate(798.5 1022.8) rotate(-45) scale(1 1.05)" text-anchor="end"><tspan font-size="32.5" dy="0">Cd274</tspan><tspan font-size="25" dy="-11.5">fl/fl</tspan></text>
<text transform="translate(884 1022.8) rotate(-45) scale(1 1.05)" text-anchor="end"><tspan font-size="32.5" dy="0">Cd274</tspan><tspan font-size="25" dy="-11.5">fl/fl</tspan><tspan font-size="32.5" dy="11.5">;</tspan><tspan font-size="32.5" dy="0">MRP8</tspan><tspan font-size="25" dy="-11.5">Cre</tspan></text>
<text transform="translate(967.6 662) scale(1 1.05)" font-size="50" fill="#000">E</text>
<text transform="translate(1146.41 666.7) scale(1 1.05)" font-size="33" fill="#000">ns</text>
<line x1="1118.7" y1="685.3" x2="1219.7" y2="685.3" stroke="#000" stroke-width="2.8"/>
<line x1="1075.6" y1="706.6" x2="1075.6" y2="1007.1" stroke="#000" stroke-width="3"/>
<line x1="1074.1" y1="1005.6" x2="1272.7" y2="1005.6" stroke="#000" stroke-width="3"/>
<line x1="1052.9" y1="966.1" x2="1075.6" y2="966.1" stroke="#000" stroke-width="3"/>
<text transform="translate(1014.89 976.7) scale(1 1.05)" font-size="31.5" fill="#000">10</text>
<line x1="1052.9" y1="901.6" x2="1075.6" y2="901.6" stroke="#000" stroke-width="3"/>
<text transform="translate(1014.99 912.2) scale(1 1.05)" font-size="31.5" fill="#000">15</text>
<line x1="1052.9" y1="837.1" x2="1075.6" y2="837.1" stroke="#000" stroke-width="3"/>
<text transform="translate(1014.89 847.7) scale(1 1.05)" font-size="31.5" fill="#000">20</text>
<line x1="1052.9" y1="772.6" x2="1075.6" y2="772.6" stroke="#000" stroke-width="3"/>
<text transform="translate(1014.99 783.2) scale(1 1.05)" font-size="31.5" fill="#000">25</text>
<line x1="1052.9" y1="708.1" x2="1075.6" y2="708.1" stroke="#000" stroke-width="3"/>
<text transform="translate(1014.89 718.7) scale(1 1.05)" font-size="31.5" fill="#000">30</text>
<line x1="1131.5" y1="1005.6" x2="1131.5" y2="1028.4" stroke="#000" stroke-width="3"/>
<line x1="1216.7" y1="1005.6" x2="1216.7" y2="1028.4" stroke="#000" stroke-width="3"/>
<text transform="translate(1000.8 1019.29) rotate(-90) scale(1 1.09)" font-size="31.6" fill="#000">Day of symptom onset</text>
<line x1="1104.2" y1="870.9" x2="1158.8" y2="870.9" stroke="#000" stroke-width="2.9"/>
<line x1="1131.5" y1="844.7" x2="1131.5" y2="896.6" stroke="#000" stroke-width="2.9"/>
<line x1="1116.3" y1="844.7" x2="1146.7" y2="844.7" stroke="#000" stroke-width="2.9"/>
<line x1="1116.3" y1="896.6" x2="1146.7" y2="896.6" stroke="#000" stroke-width="2.9"/>
<circle cx="1109.4" cy="708.7" r="5.85" fill="#fff" stroke="#000" stroke-width="2.6"/>
<circle cx="1124.5" cy="708.7" r="5.85" fill="#fff" stroke="#000" stroke-width="2.6"/>
<circle cx="1139.2" cy="708.7" r="5.85" fill="#fff" stroke="#000" stroke-width="2.6"/>
<circle cx="1153.7" cy="708.7" r="5.85" fill="#fff" stroke="#000" stroke-width="2.6"/>
<circle cx="1131.1" cy="824.9" r="5.85" fill="#fff" stroke="#000" stroke-width="2.6"/>
<circle cx="1131.1" cy="876.7" r="5.85" fill="#fff" stroke="#000" stroke-width="2.6"/>
<circle cx="1131.1" cy="888.8" r="5.85" fill="#fff" stroke="#000" stroke-width="2.6"/>
<circle cx="1131.1" cy="915.2" r="5.85" fill="#fff" stroke="#000" stroke-width="2.6"/>
<circle cx="1115.9" cy="928" r="5.85" fill="#fff" stroke="#000" stroke-width="2.6"/>
<circle cx="1131.1" cy="928" r="5.85" fill="#fff" stroke="#000" stroke-width="2.6"/>
<circle cx="1146.2" cy="928" r="5.85" fill="#fff" stroke="#000" stroke-width="2.6"/>
<circle cx="1123.4" cy="953.7" r="5.85" fill="#fff" stroke="#000" stroke-width="2.6"/>
<circle cx="1138.5" cy="953.7" r="5.85" fill="#fff" stroke="#000" stroke-width="2.6"/>
<circle cx="1115.9" cy="966.6" r="5.85" fill="#fff" stroke="#000" stroke-width="2.6"/>
<circle cx="1131.1" cy="966.6" r="5.85" fill="#fff" stroke="#000" stroke-width="2.6"/>
<circle cx="1146.2" cy="966.6" r="5.85" fill="#fff" stroke="#000" stroke-width="2.6"/>
<line x1="1189.4" y1="905.9" x2="1244" y2="905.9" stroke="#000" stroke-width="2.9"/>
<line x1="1216.7" y1="888.4" x2="1216.7" y2="922.9" stroke="#000" stroke-width="2.9"/>
<line x1="1201.8" y1="888.4" x2="1231.6" y2="888.4" stroke="#000" stroke-width="2.9"/>
<line x1="1201.8" y1="922.9" x2="1231.6" y2="922.9" stroke="#000" stroke-width="2.9"/>
<circle cx="1213.2" cy="708.7" r="5.85" fill="#ff2600" stroke="#000" stroke-width="2.6"/>
<circle cx="1220.2" cy="708.7" r="5.85" fill="#ff2600" stroke="#000" stroke-width="2.6"/>
<circle cx="1216.7" cy="760" r="5.85" fill="#ff2600" stroke="#000" stroke-width="2.6"/>
<circle cx="1216.7" cy="888.8" r="5.85" fill="#ff2600" stroke="#000" stroke-width="2.6"/>
<circle cx="1216.7" cy="901.9" r="5.85" fill="#ff2600" stroke="#000" stroke-width="2.6"/>
<circle cx="1212" cy="915.2" r="5.85" fill="#ff2600" stroke="#000" stroke-width="2.6"/>
<circle cx="1220.2" cy="915.2" r="5.85" fill="#ff2600" stroke="#000" stroke-width="2.6"/>
<circle cx="1208" cy="928" r="5.85" fill="#ff2600" stroke="#000" stroke-width="2.6"/>
<circle cx="1216.7" cy="928" r="5.85" fill="#ff2600" stroke="#000" stroke-width="2.6"/>
<circle cx="1225.4" cy="928" r="5.85" fill="#ff2600" stroke="#000" stroke-width="2.6"/>
<circle cx="1194.5" cy="940.9" r="5.85" fill="#ff2600" stroke="#000" stroke-width="2.6"/>
<circle cx="1201.5" cy="940.9" r="5.85" fill="#ff2600" stroke="#000" stroke-width="2.6"/>
<circle cx="1208.5" cy="940.9" r="5.85" fill="#ff2600" stroke="#000" stroke-width="2.6"/>
<circle cx="1224.9" cy="940.9" r="5.85" fill="#ff2600" stroke="#000" stroke-width="2.6"/>
<circle cx="1231.9" cy="940.9" r="5.85" fill="#ff2600" stroke="#000" stroke-width="2.6"/>
<circle cx="1238.9" cy="940.9" r="5.85" fill="#ff2600" stroke="#000" stroke-width="2.6"/>
<circle cx="1216.7" cy="940.9" r="5.85" fill="#ff2600" stroke="#000" stroke-width="2.6"/>
<circle cx="1212" cy="953.7" r="5.85" fill="#ff2600" stroke="#000" stroke-width="2.6"/>
<circle cx="1220.2" cy="953.7" r="5.85" fill="#ff2600" stroke="#000" stroke-width="2.6"/>
<circle cx="1216.7" cy="966.6" r="5.85" fill="#ff2600" stroke="#000" stroke-width="2.6"/>
<circle cx="1216.7" cy="979.4" r="5.85" fill="#ff2600" stroke="#000" stroke-width="2.6"/>
<line x1="1075.6" y1="709.0" x2="1232" y2="709.0" stroke="#000" stroke-width="3.1" stroke-dasharray="11.1 3.9" stroke-dashoffset="4.5"/>
<text transform="translate(1140.1 1053.4) rotate(-45) scale(1 1.05)" text-anchor="end"><tspan font-size="32.5" dy="0">Cd274</tspan><tspan font-size="25" dy="-11.5">fl/fl</tspan></text>
<text transform="translate(1225.3 1053.4) rotate(-45) scale(1 1.05)" text-anchor="end"><tspan font-size="32.5" dy="0">Cd274</tspan><tspan font-size="25" dy="-11.5">fl/fl</tspan><tspan font-size="32.5" dy="11.5">;</tspan><tspan font-size="32.5" dy="0">MRP8</tspan><tspan font-size="25" dy="-11.5">Cre</tspan></text>
<text transform="translate(549.69 1330.5) scale(1 1.05)" font-size="50" fill="#000">G</text>
<text transform="translate(746.02 1351.5) scale(1 1.05)" font-size="30" fill="#000">*</text>
<line x1="698.8" y1="1347.3" x2="804.3" y2="1347.3" stroke="#000" stroke-width="2.8"/>
<line x1="660.3" y1="1343.6" x2="660.3" y2="1646" stroke="#000" stroke-width="3"/>
<line x1="636.6" y1="1644.5" x2="858" y2="1644.5" stroke="#000" stroke-width="3"/>
<line x1="636.6" y1="1644.5" x2="660.3" y2="1644.5" stroke="#000" stroke-width="3"/>
<text transform="translate(616.24 1655.1) scale(1 1.05)" font-size="33" fill="#000">0</text>
<line x1="636.6" y1="1544.7" x2="660.3" y2="1544.7" stroke="#000" stroke-width="3"/>
<text transform="translate(616.33 1555.3) scale(1 1.05)" font-size="33" fill="#000">5</text>
<line x1="636.6" y1="1444.9" x2="660.3" y2="1444.9" stroke="#000" stroke-width="3"/>
<text transform="translate(597.88 1455.5) scale(1 1.05)" font-size="33" fill="#000">10</text>
<line x1="636.6" y1="1345.1" x2="660.3" y2="1345.1" stroke="#000" stroke-width="3"/>
<text transform="translate(597.98 1355.7) scale(1 1.05)" font-size="33" fill="#000">15</text>
<line x1="716.5" y1="1644.5" x2="716.5" y2="1667.5" stroke="#000" stroke-width="3"/>
<line x1="801.4" y1="1644.5" x2="801.4" y2="1667.5" stroke="#000" stroke-width="3"/>
<text transform="translate(581.1 1603.16) rotate(-90) scale(1 1.09)" font-size="31.7" fill="#000">AUC Day 0-15</text>
<line x1="688.5" y1="1536.9" x2="744.1" y2="1536.9" stroke="#000" stroke-width="2.9"/>
<line x1="716.3" y1="1509.9" x2="716.3" y2="1565.4" stroke="#000" stroke-width="2.9"/>
<line x1="701.5" y1="1509.9" x2="731.1" y2="1509.9" stroke="#000" stroke-width="2.9"/>
<line x1="701.5" y1="1565.4" x2="731.1" y2="1565.4" stroke="#000" stroke-width="2.9"/>
<line x1="773.6" y1="1463.6" x2="829.2" y2="1463.6" stroke="#000" stroke-width="2.9"/>
<line x1="801.4" y1="1446" x2="801.4" y2="1481.4" stroke="#000" stroke-width="2.9"/>
<line x1="786.3" y1="1446" x2="816.5" y2="1446" stroke="#000" stroke-width="2.9"/>
<line x1="786.3" y1="1481.4" x2="816.5" y2="1481.4" stroke="#000" stroke-width="2.9"/>
<circle cx="716.1" cy="1370.4" r="9.05" fill="#fff" stroke="#000" stroke-width="3"/>
<circle cx="716.1" cy="1449.9" r="9.05" fill="#fff" stroke="#000" stroke-width="3"/>
<circle cx="716.1" cy="1514.7" r="9.05" fill="#fff" stroke="#000" stroke-width="3"/>
<circle cx="696.6" cy="1549.4" r="9.05" fill="#fff" stroke="#000" stroke-width="3"/>
<circle cx="735.4" cy="1549.4" r="9.05" fill="#fff" stroke="#000" stroke-width="3"/>
<circle cx="716.1" cy="1559.8" r="9.05" fill="#fff" stroke="#000" stroke-width="3"/>
<circle cx="716.1" cy="1589.8" r="9.05" fill="#fff" stroke="#000" stroke-width="3"/>
<circle cx="716.1" cy="1609.3" r="9.05" fill="#fff" stroke="#000" stroke-width="3"/>
<circle cx="716.1" cy="1644.2" r="9.05" fill="#fff" stroke="#000" stroke-width="3"/>
<circle cx="801.4" cy="1385.5" r="9.05" fill="#ff2600" stroke="#000" stroke-width="3"/>
<circle cx="782.5" cy="1414.8" r="9.05" fill="#ff2600" stroke="#000" stroke-width="3"/>
<circle cx="801.4" cy="1425" r="9.05" fill="#ff2600" stroke="#000" stroke-width="3"/>
<circle cx="801.4" cy="1445.5" r="9.05" fill="#ff2600" stroke="#000" stroke-width="3"/>
<circle cx="782.5" cy="1464.3" r="9.05" fill="#ff2600" stroke="#000" stroke-width="3"/>
<circle cx="820.9" cy="1474.3" r="9.05" fill="#ff2600" stroke="#000" stroke-width="3"/>
<circle cx="801.4" cy="1479.9" r="9.05" fill="#ff2600" stroke="#000" stroke-width="3"/>
<circle cx="801.4" cy="1529.8" r="9.05" fill="#ff2600" stroke="#000" stroke-width="3"/>
<circle cx="801.4" cy="1549.8" r="9.05" fill="#ff2600" stroke="#000" stroke-width="3"/>
<text transform="translate(722.1 1690.5) rotate(-45) scale(1 1.05)" text-anchor="end"><tspan font-size="33" dy="0">WT</tspan></text>
<text transform="translate(809.9 1693.5) rotate(-45) scale(1 1.05)" text-anchor="end"><tspan font-size="33" font-style="italic" dy="0">Pdcd1</tspan><tspan font-size="25" font-style="italic" dy="-11.5">-/-</tspan></text>
<text transform="translate(876.7 1330.1) scale(1 1.05)" font-size="50" fill="#000">H</text>
<text transform="translate(1065.61 1352) scale(1 1.05)" font-size="30.5" fill="#000">**</text>
<line x1="1024.3" y1="1347.4" x2="1129.4" y2="1347.4" stroke="#000" stroke-width="2.8"/>
<line x1="985.8" y1="1344.4" x2="985.8" y2="1646" stroke="#000" stroke-width="3"/>
<line x1="962.1" y1="1644.5" x2="1183.5" y2="1644.5" stroke="#000" stroke-width="3"/>
<line x1="962.1" y1="1644.5" x2="985.8" y2="1644.5" stroke="#000" stroke-width="3"/>
<text transform="translate(941.74 1655.1) scale(1 1.05)" font-size="33" fill="#000">0</text>
<line x1="962.1" y1="1569.85" x2="985.8" y2="1569.85" stroke="#000" stroke-width="3"/>
<text transform="translate(923.38 1580.45) scale(1 1.05)" font-size="33" fill="#000">10</text>
<line x1="962.1" y1="1495.2" x2="985.8" y2="1495.2" stroke="#000" stroke-width="3"/>
<text transform="translate(923.38 1505.8) scale(1 1.05)" font-size="33" fill="#000">20</text>
<line x1="962.1" y1="1420.55" x2="985.8" y2="1420.55" stroke="#000" stroke-width="3"/>
<text transform="translate(923.38 1431.15) scale(1 1.05)" font-size="33" fill="#000">30</text>
<line x1="962.1" y1="1345.9" x2="985.8" y2="1345.9" stroke="#000" stroke-width="3"/>
<text transform="translate(923.38 1356.5) scale(1 1.05)" font-size="33" fill="#000">40</text>
<line x1="1041.2" y1="1644.5" x2="1041.2" y2="1668.1" stroke="#000" stroke-width="3"/>
<line x1="1126.8" y1="1644.5" x2="1126.8" y2="1668.1" stroke="#000" stroke-width="3"/>
<text transform="translate(906.8 1611.86) rotate(-90) scale(1 1.09)" font-size="31.6" fill="#000">AUC Day 16-30</text>
<line x1="1014.1" y1="1474.8" x2="1068.7" y2="1474.8" stroke="#000" stroke-width="2.9"/>
<line x1="1041.4" y1="1457.7" x2="1041.4" y2="1492.6" stroke="#000" stroke-width="2.9"/>
<line x1="1026.5" y1="1457.7" x2="1056.3" y2="1457.7" stroke="#000" stroke-width="2.9"/>
<line x1="1026.5" y1="1492.6" x2="1056.3" y2="1492.6" stroke="#000" stroke-width="2.9"/>
<line x1="1100" y1="1534.3" x2="1154.4" y2="1534.3" stroke="#000" stroke-width="2.9"/>
<circle cx="1041.2" cy="1373.4" r="9.05" fill="#fff" stroke="#000" stroke-width="3"/>
<circle cx="1041.2" cy="1429.8" r="9.05" fill="#fff" stroke="#000" stroke-width="3"/>
<circle cx="1022.8" cy="1457.9" r="9.05" fill="#fff" stroke="#000" stroke-width="3"/>
<circle cx="1060.7" cy="1469.4" r="9.05" fill="#fff" stroke="#000" stroke-width="3"/>
<circle cx="1041.2" cy="1483.9" r="9.05" fill="#fff" stroke="#000" stroke-width="3"/>
<circle cx="1022.8" cy="1490.4" r="9.05" fill="#fff" stroke="#000" stroke-width="3"/>
<circle cx="1060.7" cy="1496.3" r="9.05" fill="#fff" stroke="#000" stroke-width="3"/>
<circle cx="1032.1" cy="1535.9" r="9.05" fill="#fff" stroke="#000" stroke-width="3"/>
<circle cx="1050.9" cy="1534.9" r="9.05" fill="#fff" stroke="#000" stroke-width="3"/>
<circle cx="1123.8" cy="1513.7" r="9.05" fill="#ff2600" stroke="#000" stroke-width="3"/>
<circle cx="1130.2" cy="1519.7" r="9.05" fill="#ff2600" stroke="#000" stroke-width="3"/>
<circle cx="1107.3" cy="1538.9" r="9.05" fill="#ff2600" stroke="#000" stroke-width="3"/>
<circle cx="1113.3" cy="1529.7" r="9.05" fill="#ff2600" stroke="#000" stroke-width="3"/>
<circle cx="1127" cy="1527.4" r="9.05" fill="#ff2600" stroke="#000" stroke-width="3"/>
<circle cx="1119.9" cy="1538.4" r="9.05" fill="#ff2600" stroke="#000" stroke-width="3"/>
<circle cx="1133.4" cy="1548" r="9.05" fill="#ff2600" stroke="#000" stroke-width="3"/>
<circle cx="1146.4" cy="1547.6" r="9.05" fill="#ff2600" stroke="#000" stroke-width="3"/>
<circle cx="1139.8" cy="1533.8" r="9.05" fill="#ff2600" stroke="#000" stroke-width="3"/>
<text transform="translate(1046.8 1691.1) rotate(-45) scale(1 1.05)" text-anchor="end"><tspan font-size="33" dy="0">WT</tspan></text>
<text transform="translate(1135.3 1694.1) rotate(-45) scale(1 1.05)" text-anchor="end"><tspan font-size="33" font-style="italic" dy="0">Pdcd1</tspan><tspan font-size="25" font-style="italic" dy="-11.5">-/-</tspan></text>
<text transform="translate(1187.29 1330.1) scale(1 1.05)" font-size="50" fill="#000">I</text>
<text transform="translate(1374.63 1326.7) scale(1 1.05)" font-size="32.1" fill="#000">p=0.15</text>
<line x1="1371.4" y1="1346.2" x2="1476.9" y2="1346.2" stroke="#000" stroke-width="2.8"/>
<line x1="1333.2" y1="1344" x2="1333.2" y2="1646" stroke="#000" stroke-width="3"/>
<line x1="1309.5" y1="1644.5" x2="1532" y2="1644.5" stroke="#000" stroke-width="3"/>
<line x1="1309.5" y1="1644.5" x2="1333.2" y2="1644.5" stroke="#000" stroke-width="3"/>
<text transform="translate(1289.18 1655.1) scale(1 1.05)" font-size="33" fill="#000">8</text>
<line x1="1309.5" y1="1584.7" x2="1333.2" y2="1584.7" stroke="#000" stroke-width="3"/>
<text transform="translate(1270.68 1595.3) scale(1 1.05)" font-size="33" fill="#000">10</text>
<line x1="1309.5" y1="1524.9" x2="1333.2" y2="1524.9" stroke="#000" stroke-width="3"/>
<text transform="translate(1271.05 1535.5) scale(1 1.05)" font-size="33" fill="#000">12</text>
<line x1="1309.5" y1="1465.1" x2="1333.2" y2="1465.1" stroke="#000" stroke-width="3"/>
<text transform="translate(1270.36 1475.7) scale(1 1.05)" font-size="33" fill="#000">14</text>
<line x1="1309.5" y1="1405.3" x2="1333.2" y2="1405.3" stroke="#000" stroke-width="3"/>
<text transform="translate(1270.84 1415.9) scale(1 1.05)" font-size="33" fill="#000">16</text>
<line x1="1309.5" y1="1345.5" x2="1333.2" y2="1345.5" stroke="#000" stroke-width="3"/>
<text transform="translate(1270.83 1356.1) scale(1 1.05)" font-size="33" fill="#000">18</text>
<line x1="1388.6" y1="1644.5" x2="1388.6" y2="1667.1" stroke="#000" stroke-width="3"/>
<line x1="1473.5" y1="1644.5" x2="1473.5" y2="1667.1" stroke="#000" stroke-width="3"/>
<text transform="translate(1258 1659.4) rotate(-90) scale(1 1.09)" font-size="31.7" fill="#000">Day of symptom onset</text>
<line x1="1361.3" y1="1501.7" x2="1416.7" y2="1501.7" stroke="#000" stroke-width="2.9"/>
<line x1="1389" y1="1484.2" x2="1389" y2="1520" stroke="#000" stroke-width="2.9"/>
<line x1="1374.2" y1="1484.2" x2="1403.8" y2="1484.2" stroke="#000" stroke-width="2.9"/>
<line x1="1374.2" y1="1520" x2="1403.8" y2="1520" stroke="#000" stroke-width="2.9"/>
<line x1="1459.3" y1="1566.5" x2="1488.8" y2="1566.5" stroke="#000" stroke-width="2.9"/>
<circle cx="1389" cy="1405.7" r="9.05" fill="#fff" stroke="#000" stroke-width="3"/>
<circle cx="1369.6" cy="1465.6" r="9.05" fill="#fff" stroke="#000" stroke-width="3"/>
<circle cx="1407.9" cy="1465.6" r="9.05" fill="#fff" stroke="#000" stroke-width="3"/>
<circle cx="1369.6" cy="1495.5" r="9.05" fill="#fff" stroke="#000" stroke-width="3"/>
<circle cx="1407.9" cy="1495.5" r="9.05" fill="#fff" stroke="#000" stroke-width="3"/>
<circle cx="1369.6" cy="1525.4" r="9.05" fill="#fff" stroke="#000" stroke-width="3"/>
<circle cx="1407.9" cy="1525.4" r="9.05" fill="#fff" stroke="#000" stroke-width="3"/>
<circle cx="1389" cy="1555.2" r="9.05" fill="#fff" stroke="#000" stroke-width="3"/>
<circle cx="1389" cy="1585.1" r="9.05" fill="#fff" stroke="#000" stroke-width="3"/>
<circle cx="1467.5" cy="1525.5" r="9.05" fill="#ff2600" stroke="#000" stroke-width="3"/>
<circle cx="1480.5" cy="1525.5" r="9.05" fill="#ff2600" stroke="#000" stroke-width="3"/>
<circle cx="1455" cy="1555" r="9.05" fill="#ff2600" stroke="#000" stroke-width="3"/>
<circle cx="1493.5" cy="1555" r="9.05" fill="#ff2600" stroke="#000" stroke-width="3"/>
<circle cx="1480.5" cy="1555" r="9.05" fill="#ff2600" stroke="#000" stroke-width="3"/>
<circle cx="1467.5" cy="1555" r="9.05" fill="#ff2600" stroke="#000" stroke-width="3"/>
<circle cx="1486.8" cy="1585" r="9.05" fill="#ff2600" stroke="#000" stroke-width="3"/>
<circle cx="1474" cy="1585" r="9.05" fill="#ff2600" stroke="#000" stroke-width="3"/>
<circle cx="1461" cy="1585" r="9.05" fill="#ff2600" stroke="#000" stroke-width="3"/>
<text transform="translate(1394.2 1690.1) rotate(-45) scale(1 1.05)" text-anchor="end"><tspan font-size="33" dy="0">WT</tspan></text>
<text transform="translate(1482 1693.1) rotate(-45) scale(1 1.05)" text-anchor="end"><tspan font-size="33" font-style="italic" dy="0">Pdcd1</tspan><tspan font-size="25" font-style="italic" dy="-11.5">-/-</tspan></text>
</svg>
</body></html>
